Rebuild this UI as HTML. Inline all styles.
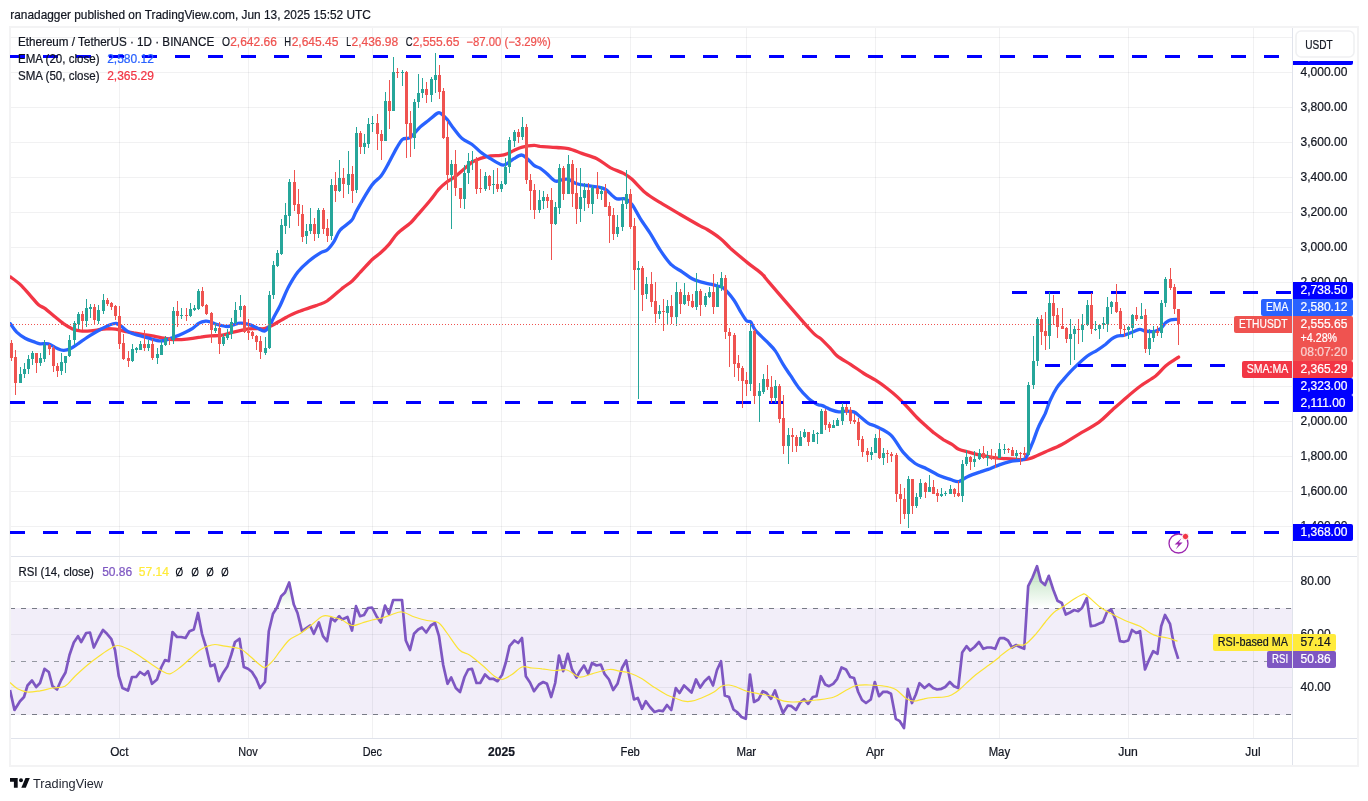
<!DOCTYPE html><html><head><meta charset="utf-8"><style>html,body{margin:0;padding:0;background:#fff;width:1368px;height:801px;overflow:hidden}</style></head><body><svg width="1368" height="801" viewBox="0 0 1368 801" style="position:absolute;left:0;top:0;will-change:transform;font-family:'Liberation Sans',sans-serif">
<rect width="1368" height="801" fill="#fff"/>
<defs><clipPath id="cm"><rect x="10" y="27" width="1282" height="529"/></clipPath><clipPath id="cr"><rect x="10" y="557" width="1282" height="181"/></clipPath><linearGradient id="ob" gradientUnits="userSpaceOnUse" x1="0" y1="529" x2="0" y2="608"><stop offset="0" stop-color="#4caf50" stop-opacity="0.75"/><stop offset="1" stop-color="#4caf50" stop-opacity="0"/></linearGradient></defs>
<g shape-rendering="crispEdges">
<rect x="10" y="608" width="1282" height="107" fill="#f2eef9"/>
<rect x="119" y="28" width="1" height="710" fill="#2a2e39" fill-opacity="0.065"/>
<rect x="248" y="28" width="1" height="710" fill="#2a2e39" fill-opacity="0.065"/>
<rect x="372" y="28" width="1" height="710" fill="#2a2e39" fill-opacity="0.065"/>
<rect x="501" y="28" width="1" height="710" fill="#2a2e39" fill-opacity="0.065"/>
<rect x="630" y="28" width="1" height="710" fill="#2a2e39" fill-opacity="0.065"/>
<rect x="746" y="28" width="1" height="710" fill="#2a2e39" fill-opacity="0.065"/>
<rect x="875" y="28" width="1" height="710" fill="#2a2e39" fill-opacity="0.065"/>
<rect x="999" y="28" width="1" height="710" fill="#2a2e39" fill-opacity="0.065"/>
<rect x="1128" y="28" width="1" height="710" fill="#2a2e39" fill-opacity="0.065"/>
<rect x="1253" y="28" width="1" height="710" fill="#2a2e39" fill-opacity="0.065"/>
<rect x="11" y="37" width="1281" height="1" fill="#2a2e39" fill-opacity="0.065"/>
<rect x="11" y="72" width="1281" height="1" fill="#2a2e39" fill-opacity="0.065"/>
<rect x="11" y="107" width="1281" height="1" fill="#2a2e39" fill-opacity="0.065"/>
<rect x="11" y="142" width="1281" height="1" fill="#2a2e39" fill-opacity="0.065"/>
<rect x="11" y="177" width="1281" height="1" fill="#2a2e39" fill-opacity="0.065"/>
<rect x="11" y="212" width="1281" height="1" fill="#2a2e39" fill-opacity="0.065"/>
<rect x="11" y="247" width="1281" height="1" fill="#2a2e39" fill-opacity="0.065"/>
<rect x="11" y="282" width="1281" height="1" fill="#2a2e39" fill-opacity="0.065"/>
<rect x="11" y="317" width="1281" height="1" fill="#2a2e39" fill-opacity="0.065"/>
<rect x="11" y="351" width="1281" height="1" fill="#2a2e39" fill-opacity="0.065"/>
<rect x="11" y="386" width="1281" height="1" fill="#2a2e39" fill-opacity="0.065"/>
<rect x="11" y="421" width="1281" height="1" fill="#2a2e39" fill-opacity="0.065"/>
<rect x="11" y="456" width="1281" height="1" fill="#2a2e39" fill-opacity="0.065"/>
<rect x="11" y="491" width="1281" height="1" fill="#2a2e39" fill-opacity="0.065"/>
<rect x="11" y="526" width="1281" height="1" fill="#2a2e39" fill-opacity="0.065"/>
<rect x="11" y="581" width="1281" height="1" fill="#2a2e39" fill-opacity="0.065"/>
<rect x="11" y="634" width="1281" height="1" fill="#2a2e39" fill-opacity="0.065"/>
<rect x="11" y="687" width="1281" height="1" fill="#2a2e39" fill-opacity="0.065"/>
</g>
<line x1="10" x2="1292" y1="608.5" y2="608.5" stroke="#787b86" stroke-width="1" stroke-dasharray="5 6" shape-rendering="crispEdges"/>
<line x1="10" x2="1292" y1="661.5" y2="661.5" stroke="#9598a1" stroke-width="1" stroke-dasharray="5 6" shape-rendering="crispEdges"/>
<line x1="10" x2="1292" y1="714.5" y2="714.5" stroke="#787b86" stroke-width="1" stroke-dasharray="5 6" shape-rendering="crispEdges"/>
<g shape-rendering="crispEdges">
<rect x="9" y="26" width="1350" height="2" fill="#f3f3f4"/>
<rect x="9" y="765" width="1350" height="2" fill="#f3f3f4"/>
<rect x="9" y="26" width="2" height="741" fill="#f3f3f4"/>
<rect x="1357" y="26" width="2" height="741" fill="#f3f3f4"/>
</g>
<g clip-path="url(#cm)">
<path d="M10.4,276.9 C12.0,278.1 16.8,281.3 20.1,284.4 C23.4,287.5 27.0,291.9 30.1,295.3 C33.2,298.7 36.0,302.6 38.5,304.8 C41.0,307.0 42.4,306.6 45.2,308.6 C47.9,310.7 52.1,314.5 55.2,317.0 C58.2,319.5 60.8,321.7 63.5,323.7 C66.3,325.6 69.1,327.5 71.9,328.7 C74.7,329.9 77.2,330.5 80.3,330.9 C83.3,331.2 87.0,331.1 90.3,330.9 C93.6,330.7 97.3,329.9 100.3,329.5 C103.4,329.2 106.2,328.8 108.7,328.7 C111.2,328.7 112.9,328.8 115.4,329.2 C117.9,329.6 120.7,330.6 123.7,331.2 C126.8,331.8 130.4,332.3 133.8,332.9 C137.1,333.4 140.5,334.0 143.8,334.6 C147.2,335.1 150.5,335.6 153.8,336.2 C157.2,336.8 160.8,337.7 163.9,338.2 C166.9,338.8 169.5,339.4 172.2,339.6 C175.0,339.8 177.5,339.7 180.6,339.6 C183.7,339.4 187.3,339.2 190.6,338.7 C194.0,338.3 197.3,337.5 200.7,337.1 C204.0,336.6 207.4,336.2 210.7,335.9 C214.0,335.6 216.9,336.0 220.7,335.4 C224.5,334.8 228.8,333.3 233.4,332.2 C238.1,331.2 244.6,329.5 248.5,328.9 C252.4,328.3 254.2,328.6 256.9,328.6 C259.5,328.5 261.9,329.1 264.4,328.6 C266.9,328.1 268.1,327.5 271.9,325.6 C275.7,323.6 282.2,319.3 287.0,316.9 C291.7,314.4 295.3,313.0 300.3,311.0 C305.4,309.1 312.6,306.8 317.1,305.2 C321.5,303.5 322.9,303.8 327.1,301.0 C331.3,298.2 338.0,291.8 342.1,288.4 C346.3,285.1 349.1,283.6 352.2,280.9 C355.2,278.2 357.2,275.6 360.5,272.0 C363.9,268.5 368.9,262.7 372.2,259.5 C375.6,256.3 377.8,255.3 380.6,252.8 C383.4,250.3 386.2,247.7 389.0,244.4 C391.8,241.2 393.7,237.2 397.3,233.6 C400.9,230.0 407.4,225.8 410.7,222.7 C414.0,219.6 414.1,218.9 417.4,215.2 C420.7,211.4 426.8,204.5 430.3,200.2 C433.9,195.9 435.9,192.4 438.7,189.4 C441.5,186.3 444.5,183.8 447.1,181.8 C449.6,179.9 451.0,179.7 453.7,177.7 C456.5,175.6 460.7,171.9 463.8,169.3 C466.8,166.7 469.4,163.9 472.1,162.1 C474.9,160.3 477.4,159.5 480.5,158.4 C483.6,157.4 487.2,156.4 490.5,155.9 C493.9,155.4 497.8,155.8 500.6,155.4 C503.4,155.1 505.0,154.6 507.3,153.7 C509.5,152.9 511.4,151.5 513.9,150.4 C516.5,149.3 519.0,147.9 522.3,147.1 C525.7,146.2 531.1,145.5 534.0,145.4 C537.0,145.3 536.2,146.0 540.0,146.4 C543.8,146.7 552.0,147.1 556.7,147.5 C561.5,147.9 564.2,147.7 568.4,148.7 C572.6,149.7 577.1,151.7 581.8,153.4 C586.5,155.1 592.1,156.4 596.9,158.7 C601.6,161.1 605.8,165.1 610.2,167.6 C614.7,170.0 620.0,171.5 623.6,173.4 C627.2,175.4 628.4,176.1 632.0,179.3 C635.6,182.5 640.6,188.8 645.4,192.7 C650.1,196.6 654.8,199.2 660.4,202.7 C666.0,206.2 672.1,209.7 678.8,213.6 C685.5,217.5 695.8,223.5 700.5,226.1 C705.3,228.8 703.9,227.4 707.2,229.5 C710.6,231.6 716.7,235.5 720.6,238.7 C724.5,241.8 726.2,244.4 730.6,248.4 C735.1,252.3 742.9,259.0 747.4,262.6 C751.8,266.2 754.6,267.9 757.4,270.1 C760.2,272.3 762.3,274.1 764.1,276.0 C765.8,277.8 760.2,272.0 767.9,281.0 C775.6,290.0 801.6,320.4 810.4,330.0 C819.1,339.6 817.1,335.3 820.4,338.4 C823.7,341.4 827.6,345.5 830.4,348.4 C833.2,351.3 833.8,353.3 837.1,355.9 C840.5,358.6 846.0,361.4 850.5,364.3 C855.0,367.2 859.7,370.8 863.9,373.5 C868.1,376.1 871.7,377.7 875.6,380.2 C879.5,382.7 883.7,385.7 887.3,388.5 C890.9,391.3 894.3,394.1 897.3,396.9 C900.4,399.7 902.4,401.8 905.7,405.3 C908.9,408.7 913.3,413.9 916.9,417.5 C920.4,421.1 924.1,424.2 926.9,426.7 C929.7,429.2 930.8,430.4 933.6,432.6 C936.4,434.7 940.5,437.8 943.6,439.8 C946.7,441.7 949.5,442.7 952.0,444.3 C954.5,445.9 955.9,448.0 958.7,449.3 C961.4,450.6 965.1,451.2 968.7,452.1 C972.3,453.1 976.2,454.2 980.4,455.2 C984.6,456.1 989.4,457.1 993.8,457.7 C998.2,458.3 1001.6,458.4 1006.7,458.7 C1011.8,459.0 1020.1,459.7 1024.3,459.6 C1028.5,459.4 1028.3,459.1 1031.8,457.9 C1035.3,456.6 1040.2,454.3 1045.2,452.0 C1050.2,449.8 1056.6,447.3 1061.9,444.5 C1067.2,441.7 1070.8,439.0 1077.0,435.3 C1083.1,431.6 1092.8,426.5 1098.7,422.3 C1104.5,418.1 1107.3,414.5 1112.1,410.2 C1116.8,406.0 1122.4,400.9 1127.1,396.9 C1131.9,392.8 1135.8,389.5 1140.5,386.0 C1145.2,382.5 1151.4,379.3 1155.6,376.0 C1159.7,372.6 1162.5,368.6 1165.6,365.9 C1168.7,363.3 1171.8,361.5 1173.9,360.1 C1176.1,358.6 1177.8,357.6 1178.6,357.1" fill="none" stroke="#f23645" stroke-width="3.3" stroke-linejoin="round" stroke-linecap="round"/>
<path d="M10.4,323.7 C11.4,325.1 14.3,329.6 16.7,332.1 C19.2,334.5 22.3,336.7 25.1,338.2 C27.9,339.8 30.9,340.7 33.4,341.6 C36.0,342.5 37.6,343.4 40.1,343.8 C42.6,344.1 45.7,343.0 48.5,343.8 C51.3,344.5 54.3,347.2 56.9,348.3 C59.4,349.4 61.3,350.4 63.5,350.4 C65.8,350.5 67.7,350.0 70.2,348.8 C72.7,347.6 75.3,345.5 78.6,343.3 C81.9,341.0 86.7,337.7 90.3,335.4 C93.9,333.1 97.1,331.3 100.3,329.5 C103.5,327.8 106.9,326.0 109.5,325.0 C112.2,324.0 114.3,323.3 116.2,323.5 C118.2,323.7 119.1,324.8 121.2,326.2 C123.3,327.6 125.8,330.5 128.8,332.1 C131.7,333.6 135.2,334.3 138.8,335.4 C142.4,336.5 146.9,337.8 150.5,338.7 C154.1,339.7 157.7,340.8 160.5,340.9 C163.3,341.1 165.0,340.2 167.2,339.6 C169.5,338.9 171.1,338.2 173.9,337.1 C176.7,336.0 180.9,334.3 183.9,332.9 C187.0,331.5 189.8,330.3 192.3,328.7 C194.8,327.1 196.8,324.4 199.0,323.2 C201.2,321.9 203.7,321.4 205.7,321.2 C207.6,321.0 208.8,321.5 210.7,322.0 C212.7,322.6 214.6,323.8 217.4,324.5 C220.2,325.3 224.7,326.5 227.4,326.5 C230.1,326.6 231.3,325.4 233.4,324.9 C235.6,324.3 237.6,323.3 240.1,323.2 C242.6,323.1 245.7,323.6 248.5,324.4 C251.3,325.1 254.2,326.6 256.9,327.7 C259.5,328.8 262.3,331.3 264.4,331.1 C266.5,330.8 267.9,328.3 269.4,326.1 C270.9,323.8 271.8,321.2 273.6,317.7 C275.4,314.2 277.8,310.3 280.3,305.2 C282.8,300.0 285.7,292.3 288.6,286.8 C291.6,281.2 294.5,276.3 297.8,272.0 C301.2,267.8 304.9,264.4 308.7,261.2 C312.5,258.0 317.3,254.7 320.4,252.8 C323.5,250.9 324.9,251.8 327.1,250.0 C329.3,248.2 331.6,245.2 333.8,241.9 C335.9,238.7 337.0,233.9 340.0,230.3 C343.0,226.7 349.0,223.6 351.7,220.3 C354.5,217.0 353.4,216.1 356.8,210.3 C360.1,204.4 367.8,190.9 371.8,185.2 C375.8,179.5 378.2,179.6 381.0,176.0 C383.8,172.4 385.9,168.2 388.5,163.4 C391.2,158.7 394.5,151.6 396.9,147.6 C399.3,143.5 400.5,140.9 402.7,139.2 C405.0,137.5 407.3,139.6 410.3,137.5 C413.2,135.5 417.2,129.8 420.3,126.9 C423.4,124.0 425.9,122.5 428.7,120.2 C431.4,118.0 435.1,114.7 437.0,113.5 C439.0,112.4 438.7,112.2 440.4,113.2 C442.0,114.2 444.8,116.8 447.1,119.4 C449.3,122.0 451.2,125.4 453.7,128.6 C456.3,131.8 459.0,136.0 462.1,138.6 C465.2,141.3 469.1,142.3 472.1,144.5 C475.2,146.7 477.4,149.6 480.5,152.0 C483.6,154.4 487.2,156.6 490.5,158.7 C493.9,160.8 498.1,163.6 500.6,164.5 C503.1,165.5 503.4,165.5 505.6,164.5 C507.8,163.6 511.3,160.3 513.9,158.7 C516.6,157.1 519.2,155.0 521.5,155.0 C523.7,155.0 525.2,157.0 527.3,158.7 C529.4,160.4 531.9,163.8 534.0,165.4 C536.1,167.0 537.9,166.8 540.0,168.1 C542.1,169.4 544.2,171.3 546.7,173.4 C549.2,175.6 552.5,179.9 555.1,181.0 C557.6,182.0 559.5,180.1 561.7,179.8 C564.0,179.5 565.9,178.6 568.4,179.3 C570.9,180.0 573.7,182.8 576.8,183.8 C579.9,184.8 583.5,185.0 586.8,185.5 C590.2,186.0 593.8,186.2 596.9,186.8 C599.9,187.5 602.7,187.9 605.2,189.3 C607.7,190.7 610.0,193.6 611.9,195.2 C613.9,196.8 614.7,198.2 616.9,198.9 C619.2,199.5 622.8,197.9 625.3,198.9 C627.8,199.8 629.5,201.1 632.0,204.4 C634.5,207.7 637.3,213.7 640.3,218.6 C643.4,223.5 647.0,228.4 650.4,233.6 C653.7,238.9 656.9,245.2 660.4,250.4 C663.9,255.6 667.6,261.2 671.3,264.7 C674.9,268.3 678.7,269.4 682.1,271.8 C685.6,274.1 689.1,277.1 692.2,278.8 C695.2,280.5 697.7,281.0 700.5,281.8 C703.3,282.6 706.1,283.1 708.9,283.8 C711.7,284.5 714.7,285.2 717.3,286.0 C719.8,286.8 721.2,286.1 723.9,288.5 C726.7,290.9 731.2,296.3 734.0,300.2 C736.8,304.1 738.6,308.5 740.7,311.9 C742.8,315.3 744.8,318.9 746.5,320.6 C748.2,322.3 749.3,320.4 750.7,321.9 C752.1,323.5 752.5,326.7 755.2,330.0 C757.9,333.3 763.5,338.2 766.9,341.7 C770.2,345.2 772.5,347.0 775.3,350.9 C778.0,354.8 781.1,361.1 783.6,365.1 C786.1,369.2 787.8,371.4 790.3,375.2 C792.8,378.9 795.6,383.8 798.7,387.7 C801.7,391.6 806.0,396.0 808.7,398.6 C811.4,401.1 813.2,402.0 814.9,403.1 C816.6,404.1 817.5,404.5 818.7,404.9 C820.0,405.3 821.0,405.1 822.4,405.6 C823.9,406.1 825.9,407.4 827.4,408.1 C828.9,408.8 829.4,409.3 831.3,409.9 C833.2,410.6 836.4,411.7 838.8,411.9 C841.2,412.1 843.0,411.1 845.5,411.1 C848.0,411.1 851.3,411.0 853.8,411.9 C856.4,412.9 858.1,415.1 860.5,417.0 C863.0,418.9 865.7,421.8 868.4,423.4 C871.1,425.0 873.0,424.8 876.7,426.7 C880.5,428.7 886.5,430.8 890.9,435.1 C895.4,439.4 899.4,447.9 903.5,452.6 C907.5,457.4 911.3,460.8 915.2,463.5 C919.1,466.2 922.7,466.8 926.9,468.9 C931.1,471.0 936.4,474.3 940.3,476.1 C944.2,477.8 947.2,478.5 950.3,479.4 C953.4,480.3 955.9,482.0 958.7,481.6 C961.4,481.2 963.4,478.5 967.0,476.9 C970.6,475.3 976.6,473.2 980.4,471.9 C984.2,470.5 986.7,470.0 990.0,468.8 C993.3,467.5 996.4,465.8 1000.0,464.6 C1003.7,463.3 1007.7,462.2 1011.7,461.2 C1015.8,460.3 1021.4,460.9 1024.3,459.1 C1027.2,457.3 1027.8,453.5 1029.3,450.4 C1030.8,447.2 1031.9,444.2 1033.5,440.3 C1035.0,436.4 1036.5,431.4 1038.5,427.0 C1040.4,422.5 1043.2,418.0 1045.2,413.6 C1047.1,409.1 1048.2,404.5 1050.2,400.2 C1052.2,395.9 1054.7,391.1 1056.9,387.7 C1059.1,384.2 1060.8,382.5 1063.6,379.3 C1066.4,376.1 1069.7,372.3 1073.6,368.4 C1077.5,364.6 1083.1,359.2 1087.0,356.2 C1090.9,353.2 1094.0,352.3 1097.0,350.3 C1100.1,348.4 1102.9,346.4 1105.4,344.5 C1107.9,342.5 1110.1,340.0 1112.1,338.6 C1114.0,337.2 1115.1,336.7 1117.1,336.1 C1119.0,335.5 1121.3,335.9 1123.8,335.3 C1126.3,334.6 1129.5,333.2 1132.1,332.3 C1134.8,331.3 1137.4,329.6 1139.7,329.4 C1141.9,329.2 1143.1,330.7 1145.5,331.1 C1147.9,331.4 1151.4,332.0 1153.9,331.6 C1156.4,331.2 1158.6,330.1 1160.6,328.6 C1162.5,327.1 1163.9,324.2 1165.6,322.7 C1167.3,321.3 1168.8,320.4 1170.6,319.9 C1172.4,319.3 1175.1,319.4 1176.5,319.4 C1177.8,319.3 1178.1,319.5 1178.5,319.5" fill="none" stroke="#2962ff" stroke-width="3.3" stroke-linejoin="round" stroke-linecap="round"/>
<line x1="10" x2="1292" y1="56.5" y2="56.5" stroke="#0000ff" stroke-width="3" stroke-dasharray="15 18"/>
<line x1="1012" x2="1292" y1="292.5" y2="292.5" stroke="#0000ff" stroke-width="3" stroke-dasharray="15 18"/>
<line x1="1045" x2="1292" y1="365.5" y2="365.5" stroke="#0000ff" stroke-width="3" stroke-dasharray="15 18"/>
<line x1="10" x2="1292" y1="402.5" y2="402.5" stroke="#0000ff" stroke-width="3" stroke-dasharray="15 18"/>
<line x1="10" x2="1292" y1="532.5" y2="532.5" stroke="#0000ff" stroke-width="3" stroke-dasharray="15 18"/>
<g shape-rendering="crispEdges">
<rect x="11" y="340" width="1" height="21" fill="#ef5350"/>
<rect x="10" y="343" width="3" height="15" fill="#ef5350"/>
<rect x="15" y="350" width="1" height="45" fill="#ef5350"/>
<rect x="14" y="357" width="3" height="26" fill="#ef5350"/>
<rect x="20" y="367" width="1" height="16" fill="#26a69a"/>
<rect x="19" y="374" width="3" height="9" fill="#26a69a"/>
<rect x="24" y="363" width="1" height="15" fill="#26a69a"/>
<rect x="23" y="369" width="3" height="5" fill="#26a69a"/>
<rect x="28" y="355" width="1" height="19" fill="#26a69a"/>
<rect x="27" y="359" width="3" height="10" fill="#26a69a"/>
<rect x="32" y="351" width="1" height="14" fill="#26a69a"/>
<rect x="31" y="353" width="3" height="6" fill="#26a69a"/>
<rect x="36" y="353" width="1" height="20" fill="#ef5350"/>
<rect x="35" y="353" width="3" height="10" fill="#ef5350"/>
<rect x="40" y="353" width="1" height="13" fill="#26a69a"/>
<rect x="39" y="358" width="3" height="5" fill="#26a69a"/>
<rect x="44" y="340" width="1" height="22" fill="#26a69a"/>
<rect x="43" y="345" width="3" height="14" fill="#26a69a"/>
<rect x="49" y="344" width="1" height="11" fill="#ef5350"/>
<rect x="48" y="345" width="3" height="4" fill="#ef5350"/>
<rect x="53" y="346" width="1" height="26" fill="#ef5350"/>
<rect x="52" y="348" width="3" height="18" fill="#ef5350"/>
<rect x="57" y="363" width="1" height="14" fill="#ef5350"/>
<rect x="56" y="366" width="3" height="5" fill="#ef5350"/>
<rect x="61" y="353" width="1" height="22" fill="#26a69a"/>
<rect x="60" y="362" width="3" height="9" fill="#26a69a"/>
<rect x="65" y="356" width="1" height="17" fill="#26a69a"/>
<rect x="64" y="356" width="3" height="7" fill="#26a69a"/>
<rect x="69" y="335" width="1" height="22" fill="#26a69a"/>
<rect x="68" y="340" width="3" height="16" fill="#26a69a"/>
<rect x="74" y="321" width="1" height="24" fill="#26a69a"/>
<rect x="73" y="323" width="3" height="17" fill="#26a69a"/>
<rect x="78" y="312" width="1" height="17" fill="#26a69a"/>
<rect x="77" y="314" width="3" height="10" fill="#26a69a"/>
<rect x="82" y="311" width="1" height="19" fill="#ef5350"/>
<rect x="81" y="314" width="3" height="7" fill="#ef5350"/>
<rect x="86" y="299" width="1" height="28" fill="#26a69a"/>
<rect x="85" y="308" width="3" height="13" fill="#26a69a"/>
<rect x="90" y="304" width="1" height="14" fill="#26a69a"/>
<rect x="89" y="307" width="3" height="2" fill="#26a69a"/>
<rect x="94" y="304" width="1" height="21" fill="#ef5350"/>
<rect x="93" y="307" width="3" height="13" fill="#ef5350"/>
<rect x="98" y="305" width="1" height="19" fill="#26a69a"/>
<rect x="97" y="310" width="3" height="11" fill="#26a69a"/>
<rect x="103" y="294" width="1" height="20" fill="#26a69a"/>
<rect x="102" y="300" width="3" height="11" fill="#26a69a"/>
<rect x="107" y="298" width="1" height="8" fill="#ef5350"/>
<rect x="106" y="300" width="3" height="4" fill="#ef5350"/>
<rect x="111" y="302" width="1" height="8" fill="#ef5350"/>
<rect x="110" y="303" width="3" height="4" fill="#ef5350"/>
<rect x="115" y="305" width="1" height="15" fill="#ef5350"/>
<rect x="114" y="306" width="3" height="10" fill="#ef5350"/>
<rect x="119" y="306" width="1" height="43" fill="#ef5350"/>
<rect x="118" y="316" width="3" height="28" fill="#ef5350"/>
<rect x="123" y="334" width="1" height="26" fill="#ef5350"/>
<rect x="122" y="343" width="3" height="16" fill="#ef5350"/>
<rect x="128" y="351" width="1" height="16" fill="#ef5350"/>
<rect x="127" y="358" width="3" height="3" fill="#ef5350"/>
<rect x="132" y="344" width="1" height="18" fill="#26a69a"/>
<rect x="131" y="349" width="3" height="12" fill="#26a69a"/>
<rect x="136" y="347" width="1" height="6" fill="#26a69a"/>
<rect x="135" y="348" width="3" height="2" fill="#26a69a"/>
<rect x="140" y="341" width="1" height="9" fill="#26a69a"/>
<rect x="139" y="344" width="3" height="6" fill="#26a69a"/>
<rect x="144" y="330" width="1" height="21" fill="#ef5350"/>
<rect x="143" y="344" width="3" height="4" fill="#ef5350"/>
<rect x="148" y="340" width="1" height="11" fill="#26a69a"/>
<rect x="147" y="344" width="3" height="4" fill="#26a69a"/>
<rect x="152" y="339" width="1" height="21" fill="#ef5350"/>
<rect x="151" y="344" width="3" height="14" fill="#ef5350"/>
<rect x="157" y="348" width="1" height="16" fill="#26a69a"/>
<rect x="156" y="354" width="3" height="4" fill="#26a69a"/>
<rect x="161" y="340" width="1" height="15" fill="#26a69a"/>
<rect x="160" y="345" width="3" height="10" fill="#26a69a"/>
<rect x="165" y="336" width="1" height="10" fill="#26a69a"/>
<rect x="164" y="338" width="3" height="7" fill="#26a69a"/>
<rect x="169" y="337" width="1" height="8" fill="#ef5350"/>
<rect x="168" y="338" width="3" height="2" fill="#ef5350"/>
<rect x="173" y="307" width="1" height="37" fill="#26a69a"/>
<rect x="172" y="311" width="3" height="29" fill="#26a69a"/>
<rect x="177" y="301" width="1" height="26" fill="#ef5350"/>
<rect x="176" y="311" width="3" height="5" fill="#ef5350"/>
<rect x="181" y="308" width="1" height="11" fill="#26a69a"/>
<rect x="180" y="315" width="3" height="1" fill="#26a69a"/>
<rect x="186" y="308" width="1" height="13" fill="#ef5350"/>
<rect x="185" y="315" width="3" height="1" fill="#ef5350"/>
<rect x="190" y="303" width="1" height="14" fill="#26a69a"/>
<rect x="189" y="309" width="3" height="7" fill="#26a69a"/>
<rect x="194" y="305" width="1" height="6" fill="#26a69a"/>
<rect x="193" y="308" width="3" height="2" fill="#26a69a"/>
<rect x="198" y="289" width="1" height="21" fill="#26a69a"/>
<rect x="197" y="291" width="3" height="18" fill="#26a69a"/>
<rect x="202" y="287" width="1" height="20" fill="#ef5350"/>
<rect x="201" y="291" width="3" height="15" fill="#ef5350"/>
<rect x="206" y="304" width="1" height="11" fill="#ef5350"/>
<rect x="205" y="305" width="3" height="9" fill="#ef5350"/>
<rect x="211" y="312" width="1" height="31" fill="#ef5350"/>
<rect x="210" y="313" width="3" height="17" fill="#ef5350"/>
<rect x="215" y="323" width="1" height="10" fill="#26a69a"/>
<rect x="214" y="328" width="3" height="3" fill="#26a69a"/>
<rect x="219" y="322" width="1" height="32" fill="#ef5350"/>
<rect x="218" y="328" width="3" height="16" fill="#ef5350"/>
<rect x="223" y="334" width="1" height="12" fill="#26a69a"/>
<rect x="222" y="337" width="3" height="7" fill="#26a69a"/>
<rect x="227" y="329" width="1" height="11" fill="#26a69a"/>
<rect x="226" y="334" width="3" height="4" fill="#26a69a"/>
<rect x="231" y="318" width="1" height="21" fill="#26a69a"/>
<rect x="230" y="322" width="3" height="12" fill="#26a69a"/>
<rect x="235" y="302" width="1" height="22" fill="#26a69a"/>
<rect x="234" y="310" width="3" height="13" fill="#26a69a"/>
<rect x="240" y="295" width="1" height="22" fill="#26a69a"/>
<rect x="239" y="306" width="3" height="4" fill="#26a69a"/>
<rect x="244" y="305" width="1" height="28" fill="#ef5350"/>
<rect x="243" y="306" width="3" height="26" fill="#ef5350"/>
<rect x="248" y="319" width="1" height="21" fill="#ef5350"/>
<rect x="247" y="331" width="3" height="2" fill="#ef5350"/>
<rect x="252" y="331" width="1" height="8" fill="#ef5350"/>
<rect x="251" y="332" width="3" height="4" fill="#ef5350"/>
<rect x="256" y="335" width="1" height="15" fill="#ef5350"/>
<rect x="255" y="336" width="3" height="6" fill="#ef5350"/>
<rect x="260" y="336" width="1" height="23" fill="#ef5350"/>
<rect x="259" y="341" width="3" height="11" fill="#ef5350"/>
<rect x="265" y="337" width="1" height="18" fill="#26a69a"/>
<rect x="264" y="348" width="3" height="5" fill="#26a69a"/>
<rect x="269" y="291" width="1" height="58" fill="#26a69a"/>
<rect x="268" y="295" width="3" height="53" fill="#26a69a"/>
<rect x="273" y="261" width="1" height="38" fill="#26a69a"/>
<rect x="272" y="265" width="3" height="30" fill="#26a69a"/>
<rect x="277" y="250" width="1" height="17" fill="#26a69a"/>
<rect x="276" y="253" width="3" height="13" fill="#26a69a"/>
<rect x="281" y="219" width="1" height="36" fill="#26a69a"/>
<rect x="280" y="225" width="3" height="29" fill="#26a69a"/>
<rect x="285" y="203" width="1" height="31" fill="#26a69a"/>
<rect x="284" y="215" width="3" height="11" fill="#26a69a"/>
<rect x="289" y="179" width="1" height="49" fill="#26a69a"/>
<rect x="288" y="182" width="3" height="34" fill="#26a69a"/>
<rect x="294" y="170" width="1" height="41" fill="#ef5350"/>
<rect x="293" y="182" width="3" height="23" fill="#ef5350"/>
<rect x="298" y="189" width="1" height="37" fill="#ef5350"/>
<rect x="297" y="204" width="3" height="10" fill="#ef5350"/>
<rect x="302" y="205" width="1" height="37" fill="#ef5350"/>
<rect x="301" y="214" width="3" height="23" fill="#ef5350"/>
<rect x="306" y="224" width="1" height="20" fill="#26a69a"/>
<rect x="305" y="231" width="3" height="5" fill="#26a69a"/>
<rect x="310" y="208" width="1" height="26" fill="#26a69a"/>
<rect x="309" y="224" width="3" height="7" fill="#26a69a"/>
<rect x="314" y="218" width="1" height="23" fill="#ef5350"/>
<rect x="313" y="224" width="3" height="10" fill="#ef5350"/>
<rect x="318" y="208" width="1" height="30" fill="#26a69a"/>
<rect x="317" y="210" width="3" height="24" fill="#26a69a"/>
<rect x="323" y="208" width="1" height="26" fill="#ef5350"/>
<rect x="322" y="210" width="3" height="19" fill="#ef5350"/>
<rect x="327" y="219" width="1" height="23" fill="#ef5350"/>
<rect x="326" y="228" width="3" height="8" fill="#ef5350"/>
<rect x="331" y="179" width="1" height="61" fill="#26a69a"/>
<rect x="330" y="185" width="3" height="51" fill="#26a69a"/>
<rect x="335" y="172" width="1" height="30" fill="#ef5350"/>
<rect x="334" y="185" width="3" height="6" fill="#ef5350"/>
<rect x="339" y="160" width="1" height="32" fill="#26a69a"/>
<rect x="338" y="178" width="3" height="13" fill="#26a69a"/>
<rect x="343" y="168" width="1" height="30" fill="#ef5350"/>
<rect x="342" y="178" width="3" height="6" fill="#ef5350"/>
<rect x="348" y="151" width="1" height="43" fill="#26a69a"/>
<rect x="347" y="174" width="3" height="11" fill="#26a69a"/>
<rect x="352" y="166" width="1" height="37" fill="#ef5350"/>
<rect x="351" y="174" width="3" height="17" fill="#ef5350"/>
<rect x="356" y="127" width="1" height="66" fill="#26a69a"/>
<rect x="355" y="133" width="3" height="57" fill="#26a69a"/>
<rect x="360" y="131" width="1" height="23" fill="#ef5350"/>
<rect x="359" y="133" width="3" height="14" fill="#ef5350"/>
<rect x="364" y="134" width="1" height="20" fill="#26a69a"/>
<rect x="363" y="143" width="3" height="4" fill="#26a69a"/>
<rect x="368" y="118" width="1" height="30" fill="#26a69a"/>
<rect x="367" y="124" width="3" height="20" fill="#26a69a"/>
<rect x="372" y="116" width="1" height="16" fill="#26a69a"/>
<rect x="371" y="123" width="3" height="1" fill="#26a69a"/>
<rect x="377" y="114" width="1" height="36" fill="#ef5350"/>
<rect x="376" y="123" width="3" height="11" fill="#ef5350"/>
<rect x="381" y="130" width="1" height="30" fill="#ef5350"/>
<rect x="380" y="134" width="3" height="7" fill="#ef5350"/>
<rect x="385" y="92" width="1" height="49" fill="#26a69a"/>
<rect x="384" y="101" width="3" height="40" fill="#26a69a"/>
<rect x="389" y="80" width="1" height="49" fill="#ef5350"/>
<rect x="388" y="101" width="3" height="10" fill="#ef5350"/>
<rect x="393" y="57" width="1" height="54" fill="#26a69a"/>
<rect x="392" y="72" width="3" height="39" fill="#26a69a"/>
<rect x="397" y="68" width="1" height="10" fill="#ef5350"/>
<rect x="396" y="72" width="3" height="1" fill="#ef5350"/>
<rect x="402" y="70" width="1" height="16" fill="#26a69a"/>
<rect x="401" y="72" width="3" height="1" fill="#26a69a"/>
<rect x="406" y="71" width="1" height="87" fill="#ef5350"/>
<rect x="405" y="72" width="3" height="52" fill="#ef5350"/>
<rect x="410" y="111" width="1" height="46" fill="#ef5350"/>
<rect x="409" y="123" width="3" height="15" fill="#ef5350"/>
<rect x="414" y="99" width="1" height="50" fill="#26a69a"/>
<rect x="413" y="102" width="3" height="36" fill="#26a69a"/>
<rect x="418" y="74" width="1" height="34" fill="#26a69a"/>
<rect x="417" y="93" width="3" height="9" fill="#26a69a"/>
<rect x="422" y="78" width="1" height="20" fill="#26a69a"/>
<rect x="421" y="89" width="3" height="4" fill="#26a69a"/>
<rect x="426" y="82" width="1" height="21" fill="#ef5350"/>
<rect x="425" y="89" width="3" height="6" fill="#ef5350"/>
<rect x="431" y="77" width="1" height="25" fill="#26a69a"/>
<rect x="430" y="79" width="3" height="16" fill="#26a69a"/>
<rect x="435" y="53" width="1" height="40" fill="#26a69a"/>
<rect x="434" y="75" width="3" height="5" fill="#26a69a"/>
<rect x="439" y="65" width="1" height="34" fill="#ef5350"/>
<rect x="438" y="75" width="3" height="17" fill="#ef5350"/>
<rect x="443" y="88" width="1" height="51" fill="#ef5350"/>
<rect x="442" y="91" width="3" height="47" fill="#ef5350"/>
<rect x="447" y="121" width="1" height="69" fill="#ef5350"/>
<rect x="446" y="137" width="3" height="38" fill="#ef5350"/>
<rect x="451" y="160" width="1" height="69" fill="#26a69a"/>
<rect x="450" y="164" width="3" height="11" fill="#26a69a"/>
<rect x="455" y="150" width="1" height="46" fill="#ef5350"/>
<rect x="454" y="164" width="3" height="24" fill="#ef5350"/>
<rect x="460" y="188" width="1" height="20" fill="#ef5350"/>
<rect x="459" y="188" width="3" height="11" fill="#ef5350"/>
<rect x="464" y="165" width="1" height="44" fill="#26a69a"/>
<rect x="463" y="173" width="3" height="26" fill="#26a69a"/>
<rect x="468" y="153" width="1" height="31" fill="#26a69a"/>
<rect x="467" y="161" width="3" height="12" fill="#26a69a"/>
<rect x="472" y="151" width="1" height="19" fill="#26a69a"/>
<rect x="471" y="160" width="3" height="1" fill="#26a69a"/>
<rect x="476" y="157" width="1" height="37" fill="#ef5350"/>
<rect x="475" y="160" width="3" height="29" fill="#ef5350"/>
<rect x="480" y="169" width="1" height="24" fill="#ef5350"/>
<rect x="479" y="188" width="3" height="1" fill="#ef5350"/>
<rect x="485" y="172" width="1" height="19" fill="#26a69a"/>
<rect x="484" y="176" width="3" height="13" fill="#26a69a"/>
<rect x="489" y="175" width="1" height="15" fill="#ef5350"/>
<rect x="488" y="176" width="3" height="10" fill="#ef5350"/>
<rect x="493" y="170" width="1" height="24" fill="#26a69a"/>
<rect x="492" y="184" width="3" height="1" fill="#26a69a"/>
<rect x="497" y="168" width="1" height="24" fill="#ef5350"/>
<rect x="496" y="184" width="3" height="5" fill="#ef5350"/>
<rect x="501" y="181" width="1" height="11" fill="#26a69a"/>
<rect x="500" y="184" width="3" height="5" fill="#26a69a"/>
<rect x="505" y="158" width="1" height="27" fill="#26a69a"/>
<rect x="504" y="167" width="3" height="17" fill="#26a69a"/>
<rect x="509" y="137" width="1" height="36" fill="#26a69a"/>
<rect x="508" y="140" width="3" height="27" fill="#26a69a"/>
<rect x="514" y="130" width="1" height="17" fill="#26a69a"/>
<rect x="513" y="132" width="3" height="9" fill="#26a69a"/>
<rect x="518" y="129" width="1" height="14" fill="#ef5350"/>
<rect x="517" y="132" width="3" height="5" fill="#ef5350"/>
<rect x="522" y="117" width="1" height="23" fill="#26a69a"/>
<rect x="521" y="127" width="3" height="10" fill="#26a69a"/>
<rect x="526" y="124" width="1" height="60" fill="#ef5350"/>
<rect x="525" y="127" width="3" height="53" fill="#ef5350"/>
<rect x="530" y="174" width="1" height="36" fill="#ef5350"/>
<rect x="529" y="180" width="3" height="11" fill="#ef5350"/>
<rect x="534" y="184" width="1" height="35" fill="#ef5350"/>
<rect x="533" y="190" width="3" height="20" fill="#ef5350"/>
<rect x="539" y="190" width="1" height="23" fill="#26a69a"/>
<rect x="538" y="200" width="3" height="10" fill="#26a69a"/>
<rect x="543" y="191" width="1" height="18" fill="#26a69a"/>
<rect x="542" y="197" width="3" height="4" fill="#26a69a"/>
<rect x="547" y="194" width="1" height="14" fill="#ef5350"/>
<rect x="546" y="197" width="3" height="4" fill="#ef5350"/>
<rect x="551" y="188" width="1" height="72" fill="#ef5350"/>
<rect x="550" y="200" width="3" height="24" fill="#ef5350"/>
<rect x="555" y="202" width="1" height="23" fill="#26a69a"/>
<rect x="554" y="207" width="3" height="17" fill="#26a69a"/>
<rect x="559" y="164" width="1" height="50" fill="#26a69a"/>
<rect x="558" y="168" width="3" height="40" fill="#26a69a"/>
<rect x="563" y="166" width="1" height="34" fill="#ef5350"/>
<rect x="562" y="168" width="3" height="26" fill="#ef5350"/>
<rect x="568" y="155" width="1" height="39" fill="#26a69a"/>
<rect x="567" y="164" width="3" height="30" fill="#26a69a"/>
<rect x="572" y="160" width="1" height="47" fill="#ef5350"/>
<rect x="571" y="164" width="3" height="30" fill="#ef5350"/>
<rect x="576" y="168" width="1" height="56" fill="#ef5350"/>
<rect x="575" y="193" width="3" height="16" fill="#ef5350"/>
<rect x="580" y="168" width="1" height="54" fill="#26a69a"/>
<rect x="579" y="197" width="3" height="12" fill="#26a69a"/>
<rect x="584" y="183" width="1" height="28" fill="#26a69a"/>
<rect x="583" y="190" width="3" height="8" fill="#26a69a"/>
<rect x="588" y="183" width="1" height="25" fill="#ef5350"/>
<rect x="587" y="190" width="3" height="14" fill="#ef5350"/>
<rect x="592" y="185" width="1" height="29" fill="#26a69a"/>
<rect x="591" y="188" width="3" height="16" fill="#26a69a"/>
<rect x="597" y="172" width="1" height="27" fill="#ef5350"/>
<rect x="596" y="188" width="3" height="6" fill="#ef5350"/>
<rect x="601" y="186" width="1" height="14" fill="#26a69a"/>
<rect x="600" y="191" width="3" height="3" fill="#26a69a"/>
<rect x="605" y="184" width="1" height="23" fill="#ef5350"/>
<rect x="604" y="191" width="3" height="16" fill="#ef5350"/>
<rect x="609" y="202" width="1" height="41" fill="#ef5350"/>
<rect x="608" y="206" width="3" height="10" fill="#ef5350"/>
<rect x="613" y="208" width="1" height="32" fill="#ef5350"/>
<rect x="612" y="215" width="3" height="19" fill="#ef5350"/>
<rect x="617" y="215" width="1" height="22" fill="#26a69a"/>
<rect x="616" y="227" width="3" height="7" fill="#26a69a"/>
<rect x="622" y="197" width="1" height="34" fill="#26a69a"/>
<rect x="621" y="204" width="3" height="23" fill="#26a69a"/>
<rect x="626" y="170" width="1" height="39" fill="#26a69a"/>
<rect x="625" y="194" width="3" height="10" fill="#26a69a"/>
<rect x="630" y="189" width="1" height="40" fill="#ef5350"/>
<rect x="629" y="194" width="3" height="33" fill="#ef5350"/>
<rect x="634" y="218" width="1" height="72" fill="#ef5350"/>
<rect x="633" y="226" width="3" height="44" fill="#ef5350"/>
<rect x="638" y="261" width="1" height="138" fill="#26a69a"/>
<rect x="637" y="268" width="3" height="2" fill="#26a69a"/>
<rect x="642" y="266" width="1" height="45" fill="#ef5350"/>
<rect x="641" y="268" width="3" height="27" fill="#ef5350"/>
<rect x="646" y="277" width="1" height="22" fill="#26a69a"/>
<rect x="645" y="284" width="3" height="10" fill="#26a69a"/>
<rect x="651" y="272" width="1" height="35" fill="#ef5350"/>
<rect x="650" y="284" width="3" height="18" fill="#ef5350"/>
<rect x="655" y="282" width="1" height="41" fill="#ef5350"/>
<rect x="654" y="301" width="3" height="13" fill="#ef5350"/>
<rect x="659" y="305" width="1" height="14" fill="#26a69a"/>
<rect x="658" y="311" width="3" height="3" fill="#26a69a"/>
<rect x="663" y="299" width="1" height="32" fill="#ef5350"/>
<rect x="662" y="311" width="3" height="1" fill="#ef5350"/>
<rect x="667" y="300" width="1" height="24" fill="#26a69a"/>
<rect x="666" y="306" width="3" height="7" fill="#26a69a"/>
<rect x="671" y="295" width="1" height="29" fill="#ef5350"/>
<rect x="670" y="306" width="3" height="11" fill="#ef5350"/>
<rect x="676" y="282" width="1" height="44" fill="#26a69a"/>
<rect x="675" y="292" width="3" height="25" fill="#26a69a"/>
<rect x="680" y="289" width="1" height="25" fill="#ef5350"/>
<rect x="679" y="292" width="3" height="12" fill="#ef5350"/>
<rect x="684" y="283" width="1" height="22" fill="#26a69a"/>
<rect x="683" y="295" width="3" height="9" fill="#26a69a"/>
<rect x="688" y="292" width="1" height="14" fill="#ef5350"/>
<rect x="687" y="295" width="3" height="6" fill="#ef5350"/>
<rect x="692" y="294" width="1" height="14" fill="#ef5350"/>
<rect x="691" y="301" width="3" height="6" fill="#ef5350"/>
<rect x="696" y="273" width="1" height="37" fill="#26a69a"/>
<rect x="695" y="291" width="3" height="16" fill="#26a69a"/>
<rect x="700" y="289" width="1" height="27" fill="#ef5350"/>
<rect x="699" y="291" width="3" height="14" fill="#ef5350"/>
<rect x="705" y="293" width="1" height="14" fill="#26a69a"/>
<rect x="704" y="296" width="3" height="9" fill="#26a69a"/>
<rect x="709" y="287" width="1" height="11" fill="#26a69a"/>
<rect x="708" y="292" width="3" height="5" fill="#26a69a"/>
<rect x="713" y="274" width="1" height="40" fill="#ef5350"/>
<rect x="712" y="292" width="3" height="15" fill="#ef5350"/>
<rect x="717" y="282" width="1" height="25" fill="#26a69a"/>
<rect x="716" y="287" width="3" height="20" fill="#26a69a"/>
<rect x="721" y="272" width="1" height="19" fill="#26a69a"/>
<rect x="720" y="278" width="3" height="10" fill="#26a69a"/>
<rect x="725" y="275" width="1" height="64" fill="#ef5350"/>
<rect x="724" y="278" width="3" height="54" fill="#ef5350"/>
<rect x="729" y="328" width="1" height="39" fill="#ef5350"/>
<rect x="728" y="332" width="3" height="4" fill="#ef5350"/>
<rect x="734" y="333" width="1" height="44" fill="#ef5350"/>
<rect x="733" y="335" width="3" height="29" fill="#ef5350"/>
<rect x="738" y="355" width="1" height="26" fill="#ef5350"/>
<rect x="737" y="363" width="3" height="5" fill="#ef5350"/>
<rect x="742" y="366" width="1" height="42" fill="#ef5350"/>
<rect x="741" y="368" width="3" height="13" fill="#ef5350"/>
<rect x="746" y="372" width="1" height="24" fill="#ef5350"/>
<rect x="745" y="380" width="3" height="4" fill="#ef5350"/>
<rect x="750" y="324" width="1" height="67" fill="#26a69a"/>
<rect x="749" y="331" width="3" height="53" fill="#26a69a"/>
<rect x="754" y="329" width="1" height="75" fill="#ef5350"/>
<rect x="753" y="331" width="3" height="65" fill="#ef5350"/>
<rect x="759" y="383" width="1" height="39" fill="#26a69a"/>
<rect x="758" y="391" width="3" height="5" fill="#26a69a"/>
<rect x="763" y="374" width="1" height="20" fill="#26a69a"/>
<rect x="762" y="379" width="3" height="13" fill="#26a69a"/>
<rect x="767" y="365" width="1" height="25" fill="#ef5350"/>
<rect x="766" y="379" width="3" height="8" fill="#ef5350"/>
<rect x="771" y="376" width="1" height="27" fill="#ef5350"/>
<rect x="770" y="387" width="3" height="11" fill="#ef5350"/>
<rect x="775" y="380" width="1" height="23" fill="#26a69a"/>
<rect x="774" y="386" width="3" height="12" fill="#26a69a"/>
<rect x="779" y="384" width="1" height="39" fill="#ef5350"/>
<rect x="778" y="386" width="3" height="33" fill="#ef5350"/>
<rect x="783" y="395" width="1" height="59" fill="#ef5350"/>
<rect x="782" y="418" width="3" height="28" fill="#ef5350"/>
<rect x="788" y="428" width="1" height="36" fill="#26a69a"/>
<rect x="787" y="435" width="3" height="11" fill="#26a69a"/>
<rect x="792" y="428" width="1" height="24" fill="#ef5350"/>
<rect x="791" y="435" width="3" height="2" fill="#ef5350"/>
<rect x="796" y="435" width="1" height="17" fill="#ef5350"/>
<rect x="795" y="437" width="3" height="9" fill="#ef5350"/>
<rect x="800" y="431" width="1" height="15" fill="#26a69a"/>
<rect x="799" y="437" width="3" height="9" fill="#26a69a"/>
<rect x="804" y="429" width="1" height="9" fill="#26a69a"/>
<rect x="803" y="432" width="3" height="5" fill="#26a69a"/>
<rect x="808" y="432" width="1" height="14" fill="#ef5350"/>
<rect x="807" y="432" width="3" height="10" fill="#ef5350"/>
<rect x="813" y="430" width="1" height="12" fill="#26a69a"/>
<rect x="812" y="434" width="3" height="8" fill="#26a69a"/>
<rect x="817" y="432" width="1" height="12" fill="#26a69a"/>
<rect x="816" y="433" width="3" height="1" fill="#26a69a"/>
<rect x="821" y="409" width="1" height="25" fill="#26a69a"/>
<rect x="820" y="411" width="3" height="23" fill="#26a69a"/>
<rect x="825" y="409" width="1" height="21" fill="#ef5350"/>
<rect x="824" y="411" width="3" height="14" fill="#ef5350"/>
<rect x="829" y="422" width="1" height="10" fill="#ef5350"/>
<rect x="828" y="424" width="3" height="4" fill="#ef5350"/>
<rect x="833" y="420" width="1" height="8" fill="#26a69a"/>
<rect x="832" y="425" width="3" height="3" fill="#26a69a"/>
<rect x="837" y="418" width="1" height="8" fill="#26a69a"/>
<rect x="836" y="420" width="3" height="6" fill="#26a69a"/>
<rect x="842" y="403" width="1" height="22" fill="#26a69a"/>
<rect x="841" y="407" width="3" height="14" fill="#26a69a"/>
<rect x="846" y="404" width="1" height="11" fill="#ef5350"/>
<rect x="845" y="407" width="3" height="5" fill="#ef5350"/>
<rect x="850" y="407" width="1" height="17" fill="#ef5350"/>
<rect x="849" y="410" width="3" height="11" fill="#ef5350"/>
<rect x="854" y="414" width="1" height="10" fill="#ef5350"/>
<rect x="853" y="420" width="3" height="2" fill="#ef5350"/>
<rect x="858" y="418" width="1" height="28" fill="#ef5350"/>
<rect x="857" y="422" width="3" height="18" fill="#ef5350"/>
<rect x="862" y="436" width="1" height="21" fill="#ef5350"/>
<rect x="861" y="439" width="3" height="13" fill="#ef5350"/>
<rect x="867" y="448" width="1" height="14" fill="#ef5350"/>
<rect x="866" y="451" width="3" height="4" fill="#ef5350"/>
<rect x="871" y="447" width="1" height="13" fill="#26a69a"/>
<rect x="870" y="452" width="3" height="3" fill="#26a69a"/>
<rect x="875" y="434" width="1" height="19" fill="#26a69a"/>
<rect x="874" y="438" width="3" height="15" fill="#26a69a"/>
<rect x="879" y="429" width="1" height="30" fill="#ef5350"/>
<rect x="878" y="438" width="3" height="20" fill="#ef5350"/>
<rect x="883" y="448" width="1" height="17" fill="#26a69a"/>
<rect x="882" y="453" width="3" height="5" fill="#26a69a"/>
<rect x="887" y="450" width="1" height="13" fill="#ef5350"/>
<rect x="886" y="453" width="3" height="1" fill="#ef5350"/>
<rect x="891" y="452" width="1" height="10" fill="#ef5350"/>
<rect x="890" y="454" width="3" height="2" fill="#ef5350"/>
<rect x="896" y="453" width="1" height="49" fill="#ef5350"/>
<rect x="895" y="455" width="3" height="39" fill="#ef5350"/>
<rect x="900" y="484" width="1" height="40" fill="#ef5350"/>
<rect x="899" y="494" width="3" height="5" fill="#ef5350"/>
<rect x="904" y="488" width="1" height="31" fill="#ef5350"/>
<rect x="903" y="499" width="3" height="15" fill="#ef5350"/>
<rect x="908" y="476" width="1" height="52" fill="#26a69a"/>
<rect x="907" y="479" width="3" height="35" fill="#26a69a"/>
<rect x="912" y="479" width="1" height="35" fill="#ef5350"/>
<rect x="911" y="479" width="3" height="27" fill="#ef5350"/>
<rect x="916" y="493" width="1" height="15" fill="#26a69a"/>
<rect x="915" y="497" width="3" height="9" fill="#26a69a"/>
<rect x="920" y="479" width="1" height="20" fill="#26a69a"/>
<rect x="919" y="483" width="3" height="14" fill="#26a69a"/>
<rect x="925" y="482" width="1" height="16" fill="#ef5350"/>
<rect x="924" y="483" width="3" height="9" fill="#ef5350"/>
<rect x="929" y="475" width="1" height="17" fill="#26a69a"/>
<rect x="928" y="487" width="3" height="5" fill="#26a69a"/>
<rect x="933" y="480" width="1" height="14" fill="#ef5350"/>
<rect x="932" y="487" width="3" height="7" fill="#ef5350"/>
<rect x="937" y="489" width="1" height="13" fill="#ef5350"/>
<rect x="936" y="493" width="3" height="3" fill="#ef5350"/>
<rect x="941" y="488" width="1" height="9" fill="#26a69a"/>
<rect x="940" y="494" width="3" height="2" fill="#26a69a"/>
<rect x="945" y="491" width="1" height="5" fill="#26a69a"/>
<rect x="944" y="493" width="3" height="1" fill="#26a69a"/>
<rect x="950" y="485" width="1" height="9" fill="#26a69a"/>
<rect x="949" y="489" width="3" height="5" fill="#26a69a"/>
<rect x="954" y="488" width="1" height="9" fill="#ef5350"/>
<rect x="953" y="489" width="3" height="5" fill="#ef5350"/>
<rect x="958" y="481" width="1" height="16" fill="#ef5350"/>
<rect x="957" y="493" width="3" height="3" fill="#ef5350"/>
<rect x="962" y="460" width="1" height="42" fill="#26a69a"/>
<rect x="961" y="464" width="3" height="32" fill="#26a69a"/>
<rect x="966" y="450" width="1" height="16" fill="#26a69a"/>
<rect x="965" y="457" width="3" height="7" fill="#26a69a"/>
<rect x="970" y="456" width="1" height="14" fill="#ef5350"/>
<rect x="969" y="457" width="3" height="5" fill="#ef5350"/>
<rect x="974" y="451" width="1" height="16" fill="#26a69a"/>
<rect x="973" y="459" width="3" height="3" fill="#26a69a"/>
<rect x="979" y="449" width="1" height="11" fill="#26a69a"/>
<rect x="978" y="453" width="3" height="6" fill="#26a69a"/>
<rect x="983" y="446" width="1" height="13" fill="#ef5350"/>
<rect x="982" y="453" width="3" height="5" fill="#ef5350"/>
<rect x="987" y="451" width="1" height="15" fill="#26a69a"/>
<rect x="986" y="456" width="3" height="2" fill="#26a69a"/>
<rect x="991" y="449" width="1" height="11" fill="#ef5350"/>
<rect x="990" y="456" width="3" height="3" fill="#ef5350"/>
<rect x="995" y="453" width="1" height="15" fill="#ef5350"/>
<rect x="994" y="458" width="3" height="1" fill="#ef5350"/>
<rect x="999" y="443" width="1" height="15" fill="#26a69a"/>
<rect x="998" y="449" width="3" height="9" fill="#26a69a"/>
<rect x="1004" y="444" width="1" height="10" fill="#26a69a"/>
<rect x="1003" y="449" width="3" height="1" fill="#26a69a"/>
<rect x="1008" y="448" width="1" height="5" fill="#ef5350"/>
<rect x="1007" y="449" width="3" height="1" fill="#ef5350"/>
<rect x="1012" y="447" width="1" height="9" fill="#ef5350"/>
<rect x="1011" y="450" width="3" height="6" fill="#ef5350"/>
<rect x="1016" y="450" width="1" height="9" fill="#26a69a"/>
<rect x="1015" y="453" width="3" height="3" fill="#26a69a"/>
<rect x="1020" y="452" width="1" height="13" fill="#ef5350"/>
<rect x="1019" y="453" width="3" height="1" fill="#ef5350"/>
<rect x="1024" y="447" width="1" height="11" fill="#ef5350"/>
<rect x="1023" y="453" width="3" height="2" fill="#ef5350"/>
<rect x="1028" y="382" width="1" height="73" fill="#26a69a"/>
<rect x="1027" y="385" width="3" height="70" fill="#26a69a"/>
<rect x="1033" y="336" width="1" height="53" fill="#26a69a"/>
<rect x="1032" y="361" width="3" height="24" fill="#26a69a"/>
<rect x="1037" y="317" width="1" height="49" fill="#26a69a"/>
<rect x="1036" y="319" width="3" height="42" fill="#26a69a"/>
<rect x="1041" y="315" width="1" height="30" fill="#ef5350"/>
<rect x="1040" y="319" width="3" height="13" fill="#ef5350"/>
<rect x="1045" y="312" width="1" height="38" fill="#ef5350"/>
<rect x="1044" y="331" width="3" height="5" fill="#ef5350"/>
<rect x="1049" y="292" width="1" height="57" fill="#26a69a"/>
<rect x="1048" y="303" width="3" height="33" fill="#26a69a"/>
<rect x="1053" y="295" width="1" height="30" fill="#ef5350"/>
<rect x="1052" y="303" width="3" height="13" fill="#ef5350"/>
<rect x="1057" y="308" width="1" height="30" fill="#ef5350"/>
<rect x="1056" y="315" width="3" height="12" fill="#ef5350"/>
<rect x="1062" y="308" width="1" height="21" fill="#ef5350"/>
<rect x="1061" y="326" width="3" height="3" fill="#ef5350"/>
<rect x="1066" y="327" width="1" height="16" fill="#ef5350"/>
<rect x="1065" y="328" width="3" height="11" fill="#ef5350"/>
<rect x="1070" y="319" width="1" height="46" fill="#26a69a"/>
<rect x="1069" y="334" width="3" height="5" fill="#26a69a"/>
<rect x="1074" y="326" width="1" height="34" fill="#26a69a"/>
<rect x="1073" y="329" width="3" height="5" fill="#26a69a"/>
<rect x="1078" y="319" width="1" height="25" fill="#ef5350"/>
<rect x="1077" y="329" width="3" height="1" fill="#ef5350"/>
<rect x="1082" y="314" width="1" height="28" fill="#26a69a"/>
<rect x="1081" y="325" width="3" height="5" fill="#26a69a"/>
<rect x="1087" y="300" width="1" height="26" fill="#26a69a"/>
<rect x="1086" y="305" width="3" height="20" fill="#26a69a"/>
<rect x="1091" y="293" width="1" height="41" fill="#ef5350"/>
<rect x="1090" y="305" width="3" height="24" fill="#ef5350"/>
<rect x="1095" y="321" width="1" height="10" fill="#26a69a"/>
<rect x="1094" y="329" width="3" height="1" fill="#26a69a"/>
<rect x="1099" y="324" width="1" height="15" fill="#26a69a"/>
<rect x="1098" y="325" width="3" height="4" fill="#26a69a"/>
<rect x="1103" y="317" width="1" height="12" fill="#26a69a"/>
<rect x="1102" y="323" width="3" height="2" fill="#26a69a"/>
<rect x="1107" y="297" width="1" height="35" fill="#26a69a"/>
<rect x="1106" y="307" width="3" height="17" fill="#26a69a"/>
<rect x="1111" y="301" width="1" height="13" fill="#26a69a"/>
<rect x="1110" y="302" width="3" height="5" fill="#26a69a"/>
<rect x="1116" y="284" width="1" height="29" fill="#ef5350"/>
<rect x="1115" y="302" width="3" height="10" fill="#ef5350"/>
<rect x="1120" y="308" width="1" height="26" fill="#ef5350"/>
<rect x="1119" y="311" width="3" height="18" fill="#ef5350"/>
<rect x="1124" y="325" width="1" height="12" fill="#ef5350"/>
<rect x="1123" y="329" width="3" height="1" fill="#ef5350"/>
<rect x="1128" y="326" width="1" height="13" fill="#26a69a"/>
<rect x="1127" y="327" width="3" height="3" fill="#26a69a"/>
<rect x="1132" y="314" width="1" height="24" fill="#26a69a"/>
<rect x="1131" y="315" width="3" height="13" fill="#26a69a"/>
<rect x="1136" y="307" width="1" height="14" fill="#ef5350"/>
<rect x="1135" y="315" width="3" height="4" fill="#ef5350"/>
<rect x="1141" y="303" width="1" height="16" fill="#26a69a"/>
<rect x="1140" y="316" width="3" height="3" fill="#26a69a"/>
<rect x="1145" y="309" width="1" height="44" fill="#ef5350"/>
<rect x="1144" y="315" width="3" height="34" fill="#ef5350"/>
<rect x="1149" y="329" width="1" height="26" fill="#26a69a"/>
<rect x="1148" y="338" width="3" height="11" fill="#26a69a"/>
<rect x="1153" y="326" width="1" height="16" fill="#26a69a"/>
<rect x="1152" y="331" width="3" height="7" fill="#26a69a"/>
<rect x="1157" y="326" width="1" height="10" fill="#ef5350"/>
<rect x="1156" y="331" width="3" height="2" fill="#ef5350"/>
<rect x="1161" y="300" width="1" height="38" fill="#26a69a"/>
<rect x="1160" y="303" width="3" height="30" fill="#26a69a"/>
<rect x="1165" y="277" width="1" height="30" fill="#26a69a"/>
<rect x="1164" y="279" width="3" height="24" fill="#26a69a"/>
<rect x="1170" y="268" width="1" height="22" fill="#ef5350"/>
<rect x="1169" y="279" width="3" height="9" fill="#ef5350"/>
<rect x="1174" y="284" width="1" height="30" fill="#ef5350"/>
<rect x="1173" y="287" width="3" height="22" fill="#ef5350"/>
<rect x="1178" y="309" width="1" height="36" fill="#ef5350"/>
<rect x="1177" y="309" width="3" height="15" fill="#ef5350"/>
</g>
<line x1="10" x2="1234" y1="324.5" y2="324.5" stroke="#ef5350" stroke-width="1" stroke-dasharray="1 2" shape-rendering="crispEdges"/>
</g>
<g clip-path="url(#cr)">
<clipPath id="c70"><rect x="10" y="557" width="1282" height="51"/></clipPath>
<path clip-path="url(#c70)" d="M10.0,690.0 L14.5,710.0 L20.0,701.2 L24.0,697.0 L27.5,685.5 L32.0,680.5 L36.2,687.0 L40.0,683.0 L44.5,668.8 L48.8,672.0 L52.5,686.2 L57.0,689.5 L61.2,680.0 L65.5,672.5 L69.5,655.0 L73.8,642.5 L78.0,636.2 L81.2,642.0 L86.2,633.0 L90.0,632.5 L93.8,647.5 L98.8,637.5 L103.0,630.0 L107.0,633.8 L111.2,638.8 L115.0,650.0 L118.8,676.2 L122.5,688.0 L128.0,690.5 L132.0,677.0 L136.2,677.0 L140.0,672.0 L144.5,675.0 L148.0,671.2 L152.0,683.8 L157.0,679.5 L161.2,667.5 L165.0,660.0 L168.8,661.2 L172.5,632.0 L177.0,637.0 L181.2,637.0 L185.5,638.0 L189.5,631.2 L193.8,629.5 L198.0,613.0 L202.0,633.8 L206.2,647.5 L210.5,666.2 L214.5,664.5 L218.8,681.2 L223.0,673.0 L227.5,666.2 L231.2,655.0 L235.0,642.0 L239.5,638.8 L243.8,667.0 L248.0,668.8 L252.0,672.0 L256.2,678.8 L260.0,688.0 L265.0,682.0 L268.8,631.2 L273.0,613.8 L277.0,607.5 L281.2,596.2 L285.0,592.5 L289.2,582.5 L293.8,604.5 L297.5,613.0 L302.0,631.2 L310.0,625.5 L313.8,633.8 L318.8,622.5 L323.0,636.2 L327.0,641.2 L331.2,618.0 L335.0,621.2 L339.2,616.2 L342.0,619.5 L347.5,617.0 L352.0,630.5 L356.0,606.2 L360.0,616.2 L364.0,615.0 L368.0,608.0 L372.0,607.5 L376.5,616.2 L380.8,622.5 L385.0,605.5 L389.0,613.8 L393.2,600.0 L402.0,600.0 L405.8,640.5 L410.0,650.0 L414.0,633.8 L418.2,629.5 L422.0,627.5 L426.2,632.5 L430.8,625.5 L435.0,623.0 L439.0,636.2 L443.2,665.0 L447.5,683.8 L451.2,677.5 L455.8,688.0 L460.0,692.0 L464.5,677.0 L468.2,669.5 L472.0,668.8 L476.5,683.0 L480.2,683.0 L485.0,674.5 L489.5,678.8 L493.2,678.8 L497.5,681.2 L502.0,675.0 L505.8,662.5 L509.5,646.2 L514.5,640.5 L518.2,643.0 L522.0,638.0 L525.8,676.2 L530.0,682.5 L534.0,691.2 L539.0,684.5 L543.2,682.0 L547.0,683.8 L551.2,697.0 L555.2,683.0 L559.0,655.5 L563.2,671.2 L567.8,653.8 L572.0,669.5 L576.5,677.5 L580.0,671.2 L584.0,665.5 L588.2,673.8 L592.0,663.0 L596.5,665.5 L600.8,664.5 L604.5,673.8 L609.0,679.5 L613.2,690.0 L617.5,683.8 L622.0,668.0 L626.2,660.5 L630.0,680.0 L634.0,699.5 L637.8,698.0 L642.0,708.8 L645.8,701.2 L650.0,707.0 L654.5,712.0 L659.0,710.5 L662.8,711.2 L667.0,705.0 L671.2,710.0 L675.8,688.0 L679.5,693.0 L684.0,685.5 L691.5,692.5 L696.0,679.5 L700.2,687.5 L704.5,681.2 L709.0,677.0 L713.0,685.5 L717.0,670.0 L721.0,661.2 L724.8,695.5 L729.0,697.0 L733.5,709.5 L737.0,712.0 L741.5,717.0 L745.8,718.8 L750.0,674.5 L754.0,702.0 L758.5,699.5 L762.8,691.2 L766.5,693.0 L771.0,698.8 L775.0,690.5 L779.0,702.5 L783.0,713.0 L787.8,705.5 L791.5,706.2 L796.0,710.0 L800.2,702.5 L804.0,699.2 L808.2,703.8 L812.8,697.0 L816.5,696.2 L820.8,676.2 L825.2,684.5 L829.0,686.2 L833.2,683.8 L837.2,678.8 L841.5,667.5 L846.0,669.5 L850.2,677.0 L854.0,678.0 L858.2,692.0 L862.0,700.0 L866.0,703.0 L870.8,699.5 L874.8,682.0 L879.0,696.2 L883.2,691.8 L887.0,691.8 L891.0,693.8 L895.8,718.8 L899.8,721.2 L904.0,728.0 L907.8,688.8 L912.0,703.0 L915.8,694.5 L919.5,683.2 L924.5,688.0 L929.0,684.2 L933.2,688.0 L937.0,689.5 L941.5,688.8 L945.2,687.0 L949.8,682.0 L954.0,686.2 L958.2,688.0 L962.2,652.5 L966.5,646.2 L970.2,650.5 L974.5,647.0 L979.0,642.0 L983.2,648.8 L987.2,647.5 L991.0,647.5 L995.2,648.8 L999.0,639.5 L1000.0,638.2 L1003.8,638.0 L1008.0,640.5 L1012.0,647.5 L1016.2,645.0 L1020.0,647.0 L1024.2,648.8 L1028.2,586.2 L1032.5,577.5 L1037.0,566.2 L1040.8,581.2 L1045.0,585.0 L1048.8,575.8 L1053.2,589.5 L1057.5,600.8 L1061.8,603.0 L1065.8,614.5 L1070.0,612.5 L1074.2,610.0 L1078.2,611.2 L1082.0,608.0 L1086.8,598.2 L1090.8,626.2 L1095.0,625.5 L1098.8,623.8 L1103.0,622.0 L1107.0,612.0 L1111.2,609.5 L1115.5,619.5 L1120.0,641.2 L1124.2,641.8 L1128.2,640.5 L1132.0,630.0 L1136.2,633.0 L1140.0,631.2 L1145.0,669.5 L1149.2,659.5 L1153.2,651.2 L1157.5,653.8 L1161.2,626.2 L1165.0,615.0 L1170.0,623.8 L1174.2,646.2 L1178.2,658.8 L1178.2,700 L10.0,700 Z" fill="url(#ob)"/>
<path d="M10.0,690.0 L14.5,710.0 L20.0,701.2 L24.0,697.0 L27.5,685.5 L32.0,680.5 L36.2,687.0 L40.0,683.0 L44.5,668.8 L48.8,672.0 L52.5,686.2 L57.0,689.5 L61.2,680.0 L65.5,672.5 L69.5,655.0 L73.8,642.5 L78.0,636.2 L81.2,642.0 L86.2,633.0 L90.0,632.5 L93.8,647.5 L98.8,637.5 L103.0,630.0 L107.0,633.8 L111.2,638.8 L115.0,650.0 L118.8,676.2 L122.5,688.0 L128.0,690.5 L132.0,677.0 L136.2,677.0 L140.0,672.0 L144.5,675.0 L148.0,671.2 L152.0,683.8 L157.0,679.5 L161.2,667.5 L165.0,660.0 L168.8,661.2 L172.5,632.0 L177.0,637.0 L181.2,637.0 L185.5,638.0 L189.5,631.2 L193.8,629.5 L198.0,613.0 L202.0,633.8 L206.2,647.5 L210.5,666.2 L214.5,664.5 L218.8,681.2 L223.0,673.0 L227.5,666.2 L231.2,655.0 L235.0,642.0 L239.5,638.8 L243.8,667.0 L248.0,668.8 L252.0,672.0 L256.2,678.8 L260.0,688.0 L265.0,682.0 L268.8,631.2 L273.0,613.8 L277.0,607.5 L281.2,596.2 L285.0,592.5 L289.2,582.5 L293.8,604.5 L297.5,613.0 L302.0,631.2 L310.0,625.5 L313.8,633.8 L318.8,622.5 L323.0,636.2 L327.0,641.2 L331.2,618.0 L335.0,621.2 L339.2,616.2 L342.0,619.5 L347.5,617.0 L352.0,630.5 L356.0,606.2 L360.0,616.2 L364.0,615.0 L368.0,608.0 L372.0,607.5 L376.5,616.2 L380.8,622.5 L385.0,605.5 L389.0,613.8 L393.2,600.0 L402.0,600.0 L405.8,640.5 L410.0,650.0 L414.0,633.8 L418.2,629.5 L422.0,627.5 L426.2,632.5 L430.8,625.5 L435.0,623.0 L439.0,636.2 L443.2,665.0 L447.5,683.8 L451.2,677.5 L455.8,688.0 L460.0,692.0 L464.5,677.0 L468.2,669.5 L472.0,668.8 L476.5,683.0 L480.2,683.0 L485.0,674.5 L489.5,678.8 L493.2,678.8 L497.5,681.2 L502.0,675.0 L505.8,662.5 L509.5,646.2 L514.5,640.5 L518.2,643.0 L522.0,638.0 L525.8,676.2 L530.0,682.5 L534.0,691.2 L539.0,684.5 L543.2,682.0 L547.0,683.8 L551.2,697.0 L555.2,683.0 L559.0,655.5 L563.2,671.2 L567.8,653.8 L572.0,669.5 L576.5,677.5 L580.0,671.2 L584.0,665.5 L588.2,673.8 L592.0,663.0 L596.5,665.5 L600.8,664.5 L604.5,673.8 L609.0,679.5 L613.2,690.0 L617.5,683.8 L622.0,668.0 L626.2,660.5 L630.0,680.0 L634.0,699.5 L637.8,698.0 L642.0,708.8 L645.8,701.2 L650.0,707.0 L654.5,712.0 L659.0,710.5 L662.8,711.2 L667.0,705.0 L671.2,710.0 L675.8,688.0 L679.5,693.0 L684.0,685.5 L691.5,692.5 L696.0,679.5 L700.2,687.5 L704.5,681.2 L709.0,677.0 L713.0,685.5 L717.0,670.0 L721.0,661.2 L724.8,695.5 L729.0,697.0 L733.5,709.5 L737.0,712.0 L741.5,717.0 L745.8,718.8 L750.0,674.5 L754.0,702.0 L758.5,699.5 L762.8,691.2 L766.5,693.0 L771.0,698.8 L775.0,690.5 L779.0,702.5 L783.0,713.0 L787.8,705.5 L791.5,706.2 L796.0,710.0 L800.2,702.5 L804.0,699.2 L808.2,703.8 L812.8,697.0 L816.5,696.2 L820.8,676.2 L825.2,684.5 L829.0,686.2 L833.2,683.8 L837.2,678.8 L841.5,667.5 L846.0,669.5 L850.2,677.0 L854.0,678.0 L858.2,692.0 L862.0,700.0 L866.0,703.0 L870.8,699.5 L874.8,682.0 L879.0,696.2 L883.2,691.8 L887.0,691.8 L891.0,693.8 L895.8,718.8 L899.8,721.2 L904.0,728.0 L907.8,688.8 L912.0,703.0 L915.8,694.5 L919.5,683.2 L924.5,688.0 L929.0,684.2 L933.2,688.0 L937.0,689.5 L941.5,688.8 L945.2,687.0 L949.8,682.0 L954.0,686.2 L958.2,688.0 L962.2,652.5 L966.5,646.2 L970.2,650.5 L974.5,647.0 L979.0,642.0 L983.2,648.8 L987.2,647.5 L991.0,647.5 L995.2,648.8 L999.0,639.5 L1000.0,638.2 L1003.8,638.0 L1008.0,640.5 L1012.0,647.5 L1016.2,645.0 L1020.0,647.0 L1024.2,648.8 L1028.2,586.2 L1032.5,577.5 L1037.0,566.2 L1040.8,581.2 L1045.0,585.0 L1048.8,575.8 L1053.2,589.5 L1057.5,600.8 L1061.8,603.0 L1065.8,614.5 L1070.0,612.5 L1074.2,610.0 L1078.2,611.2 L1082.0,608.0 L1086.8,598.2 L1090.8,626.2 L1095.0,625.5 L1098.8,623.8 L1103.0,622.0 L1107.0,612.0 L1111.2,609.5 L1115.5,619.5 L1120.0,641.2 L1124.2,641.8 L1128.2,640.5 L1132.0,630.0 L1136.2,633.0 L1140.0,631.2 L1145.0,669.5 L1149.2,659.5 L1153.2,651.2 L1157.5,653.8 L1161.2,626.2 L1165.0,615.0 L1170.0,623.8 L1174.2,646.2 L1178.2,658.8" fill="none" stroke="#7e57c2" stroke-width="2.7" stroke-linejoin="round"/>
<path d="M10.0,682.5 C11.2,683.5 14.6,687.2 17.5,688.8 C20.4,690.3 23.8,691.7 27.5,692.0 C31.2,692.3 35.8,691.4 40.0,690.8 C44.2,690.1 48.3,688.8 52.5,688.0 C56.7,687.2 61.2,688.2 65.0,686.2 C68.8,684.3 71.2,679.8 75.0,676.2 C78.8,672.7 83.3,668.5 87.5,665.0 C91.7,661.5 96.2,658.2 100.0,655.5 C103.8,652.8 107.1,650.4 110.0,648.8 C112.9,647.1 114.6,645.5 117.5,645.5 C120.4,645.5 123.8,647.0 127.5,648.8 C131.2,650.5 135.8,653.5 140.0,656.2 C144.2,659.0 148.8,662.5 152.5,665.0 C156.2,667.5 159.6,669.8 162.5,671.2 C165.4,672.7 167.1,674.4 170.0,673.8 C172.9,673.1 176.7,670.0 180.0,667.5 C183.3,665.0 186.7,661.7 190.0,658.8 C193.3,655.8 197.1,652.1 200.0,650.0 C202.9,647.9 205.0,647.2 207.5,646.2 C210.0,645.3 212.1,644.5 215.0,644.5 C217.9,644.5 220.8,645.5 225.0,646.2 C229.2,647.0 235.8,647.1 240.0,648.8 C244.2,650.4 246.7,653.5 250.0,656.2 C253.3,659.0 257.5,663.1 260.0,665.0 C262.5,666.9 262.9,668.1 265.0,667.5 C267.1,666.9 270.0,664.0 272.5,661.2 C275.0,658.5 277.2,654.8 280.0,651.2 C282.8,647.7 285.9,642.9 289.2,640.0 C292.6,637.1 296.5,636.0 300.0,633.8 C303.5,631.5 306.2,629.2 310.0,626.2 C313.8,623.3 318.8,617.8 322.5,616.2 C326.2,614.7 329.2,616.4 332.5,617.0 C335.8,617.6 338.8,618.6 342.0,620.0 C345.2,621.4 348.7,625.0 352.0,625.5 C355.3,626.0 358.7,623.9 362.0,623.0 C365.3,622.1 368.7,620.8 372.0,620.0 C375.3,619.2 378.7,618.9 382.0,618.0 C385.3,617.1 388.7,615.5 392.0,614.5 C395.3,613.5 398.2,611.6 402.0,612.0 C405.8,612.4 410.3,615.6 414.5,617.0 C418.7,618.4 423.0,619.6 427.0,620.5 C431.0,621.4 434.9,620.4 438.2,622.5 C441.6,624.6 443.5,628.4 447.0,633.0 C450.5,637.6 455.8,646.3 459.5,650.0 C463.2,653.7 465.8,652.5 469.5,655.0 C473.2,657.5 477.8,661.5 482.0,665.0 C486.2,668.5 491.2,673.8 494.5,676.2 C497.8,678.7 499.1,679.8 502.0,679.5 C504.9,679.2 508.7,676.6 512.0,674.5 C515.3,672.4 518.7,668.1 522.0,667.0 C525.3,665.9 528.7,667.7 532.0,668.0 C535.3,668.3 538.2,668.3 542.0,668.8 C545.8,669.2 550.3,670.3 554.5,670.5 C558.7,670.7 562.8,668.9 567.0,670.0 C571.2,671.1 575.3,676.4 579.5,677.0 C583.7,677.6 587.0,675.0 592.0,673.8 C597.0,672.5 604.9,669.9 609.5,669.5 C614.1,669.1 616.2,670.7 619.5,671.2 C622.8,671.8 625.8,671.8 629.5,673.0 C633.2,674.2 637.8,676.3 642.0,678.8 C646.2,681.2 650.3,684.8 654.5,687.5 C658.7,690.2 663.2,693.1 667.0,695.0 C670.8,696.9 674.2,697.7 677.0,698.8 C679.8,699.8 681.6,700.8 684.0,701.2 C686.4,701.7 688.6,701.8 691.5,701.2 C694.4,700.7 697.8,699.5 701.5,698.0 C705.2,696.5 710.7,694.0 714.0,692.0 C717.3,690.0 719.0,687.4 721.5,686.2 C724.0,685.1 726.5,684.9 729.0,685.0 C731.5,685.1 733.6,686.0 736.5,687.0 C739.4,688.0 742.8,690.1 746.5,691.2 C750.2,692.4 754.8,692.9 759.0,693.8 C763.2,694.6 767.3,695.0 771.5,696.2 C775.7,697.5 780.2,700.3 784.0,701.2 C787.8,702.2 790.7,702.0 794.0,702.0 C797.3,702.0 800.2,701.6 804.0,701.2 C807.8,700.9 811.5,700.7 816.5,700.0 C821.5,699.3 829.0,698.7 834.0,697.0 C839.0,695.3 842.8,691.9 846.5,690.0 C850.2,688.1 852.8,686.3 856.5,685.5 C860.2,684.7 865.2,685.0 869.0,685.0 C872.8,685.0 875.7,685.2 879.0,685.5 C882.3,685.8 886.1,686.2 889.0,687.0 C891.9,687.8 893.6,688.0 896.5,690.0 C899.4,692.0 903.6,696.9 906.5,698.8 C909.4,700.6 911.1,701.2 914.0,701.2 C916.9,701.2 920.7,699.4 924.0,698.8 C927.3,698.1 930.7,697.8 934.0,697.5 C937.3,697.2 941.1,697.4 944.0,697.0 C946.9,696.6 949.0,696.2 951.5,695.0 C954.0,693.8 955.2,693.1 959.0,690.0 C962.8,686.9 969.0,680.4 974.0,676.2 C979.0,672.1 984.8,668.1 989.0,665.0 C993.2,661.9 997.2,659.0 999.0,657.5 C1000.8,656.0 998.2,657.7 1000.0,656.2 C1001.8,654.8 1007.1,650.6 1010.0,648.8 C1012.9,646.9 1015.0,645.7 1017.5,645.0 C1020.0,644.3 1022.1,646.2 1025.0,644.5 C1027.9,642.8 1031.7,638.7 1035.0,635.0 C1038.3,631.3 1041.9,626.2 1045.0,622.5 C1048.1,618.8 1050.8,615.1 1053.8,612.5 C1056.7,609.9 1059.4,609.1 1062.5,607.0 C1065.6,604.9 1069.2,602.1 1072.5,600.0 C1075.8,597.9 1080.2,595.3 1082.5,594.5 C1084.8,593.7 1083.3,592.9 1086.2,595.0 C1089.2,597.1 1096.0,604.0 1100.0,607.0 C1104.0,610.0 1105.8,610.8 1110.0,613.0 C1114.2,615.2 1120.0,618.3 1125.0,620.5 C1130.0,622.7 1135.8,624.2 1140.0,626.2 C1144.2,628.3 1147.1,631.3 1150.0,633.0 C1152.9,634.7 1154.6,635.4 1157.5,636.2 C1160.4,637.1 1164.2,637.2 1167.5,638.0 C1170.8,638.8 1175.8,640.7 1177.5,641.2" fill="none" stroke="#fbe335" stroke-width="1.2"/>
</g>
<g><circle cx="1178.5" cy="543.5" r="9.5" fill="#fff" stroke="#9c27b0" stroke-width="1.3"/><path d="M1181.5,538.2 L1174.6,544.6 L1178.4,544.6 L1175.8,549.2 L1182.6,542.6 L1178.8,542.6 Z" fill="#9c27b0"/><circle cx="1185.5" cy="536.5" r="3.2" fill="#f23645" stroke="#fff" stroke-width="1"/></g>
<g shape-rendering="crispEdges">
<rect x="1292" y="28" width="1" height="737" fill="#e0e3eb"/>
<rect x="11" y="556" width="1346" height="1" fill="#e0e3eb"/>
<rect x="11" y="738" width="1346" height="1" fill="#e0e3eb"/>
</g>
<text x="1300.6" y="75.9" font-size="12" fill="#131722" stroke="#131722" stroke-width="0.22" text-anchor="start" font-weight="normal" >4,000.00</text>
<text x="1300.6" y="110.8" font-size="12" fill="#131722" stroke="#131722" stroke-width="0.22" text-anchor="start" font-weight="normal" >3,800.00</text>
<text x="1300.6" y="145.8" font-size="12" fill="#131722" stroke="#131722" stroke-width="0.22" text-anchor="start" font-weight="normal" >3,600.00</text>
<text x="1300.6" y="180.7" font-size="12" fill="#131722" stroke="#131722" stroke-width="0.22" text-anchor="start" font-weight="normal" >3,400.00</text>
<text x="1300.6" y="215.6" font-size="12" fill="#131722" stroke="#131722" stroke-width="0.22" text-anchor="start" font-weight="normal" >3,200.00</text>
<text x="1300.6" y="250.6" font-size="12" fill="#131722" stroke="#131722" stroke-width="0.22" text-anchor="start" font-weight="normal" >3,000.00</text>
<text x="1300.6" y="285.5" font-size="12" fill="#131722" stroke="#131722" stroke-width="0.22" text-anchor="start" font-weight="normal" >2,800.00</text>
<text x="1300.6" y="320.4" font-size="12" fill="#131722" stroke="#131722" stroke-width="0.22" text-anchor="start" font-weight="normal" >2,600.00</text>
<text x="1300.6" y="355.3" font-size="12" fill="#131722" stroke="#131722" stroke-width="0.22" text-anchor="start" font-weight="normal" >2,400.00</text>
<text x="1300.6" y="390.3" font-size="12" fill="#131722" stroke="#131722" stroke-width="0.22" text-anchor="start" font-weight="normal" >2,200.00</text>
<text x="1300.6" y="425.2" font-size="12" fill="#131722" stroke="#131722" stroke-width="0.22" text-anchor="start" font-weight="normal" >2,000.00</text>
<text x="1300.6" y="460.1" font-size="12" fill="#131722" stroke="#131722" stroke-width="0.22" text-anchor="start" font-weight="normal" >1,800.00</text>
<text x="1300.6" y="495.1" font-size="12" fill="#131722" stroke="#131722" stroke-width="0.22" text-anchor="start" font-weight="normal" >1,600.00</text>
<text x="1300.6" y="530.0" font-size="12" fill="#131722" stroke="#131722" stroke-width="0.22" text-anchor="start" font-weight="normal" >1,400.00</text>
<text x="1300.6" y="585.0" font-size="12" fill="#131722" stroke="#131722" stroke-width="0.22" text-anchor="start" font-weight="normal" >80.00</text>
<text x="1300.6" y="638.0" font-size="12" fill="#131722" stroke="#131722" stroke-width="0.22" text-anchor="start" font-weight="normal" >60.00</text>
<text x="1300.6" y="691.0" font-size="12" fill="#131722" stroke="#131722" stroke-width="0.22" text-anchor="start" font-weight="normal" >40.00</text>
<path d="M1293,48 H1351 Q1353,48 1353,50 V63 Q1353,65 1351,65 H1293 Q1293,65 1293,65 V48 Q1293,48 1293,48 Z" fill="#0000ff"/>
<text x="1300.6" y="60.0" font-size="12" fill="#fff" stroke="#fff" stroke-width="0.22" text-anchor="start" font-weight="normal" >4,094.00</text>
<rect x="1293" y="28" width="64" height="33" fill="#fff"/>
<path d="M1293,282 H1351 Q1353,282 1353,284 V297 Q1353,299 1351,299 H1293 Q1293,299 1293,299 V282 Q1293,282 1293,282 Z" fill="#0000ff"/>
<text x="1300.6" y="294.0" font-size="12" fill="#fff" stroke="#fff" stroke-width="0.22" text-anchor="start" font-weight="normal" >2,738.50</text>
<path d="M1293,299 H1351 Q1353,299 1353,301 V314 Q1353,316 1351,316 H1293 Q1293,316 1293,316 V299 Q1293,299 1293,299 Z" fill="#2962ff"/>
<text x="1300.6" y="311.0" font-size="12" fill="#fff" stroke="#fff" stroke-width="0.22" text-anchor="start" font-weight="normal" >2,580.12</text>
<path d="M1293,316 H1351 Q1353,316 1353,318 V359 Q1353,361 1351,361 H1293 Q1293,361 1293,361 V316 Q1293,316 1293,316 Z" fill="#ef5350"/>
<text x="1300.6" y="328.1" font-size="12" fill="#fff" stroke="#fff" stroke-width="0.22" text-anchor="start" font-weight="normal" >2,555.65</text>
<text x="1300.6" y="342.2" font-size="12" fill="#fff" stroke="#fff" stroke-width="0.22" text-anchor="start" font-weight="normal"  textLength="36.5" lengthAdjust="spacingAndGlyphs">+4.28%</text>
<text x="1300.6" y="356.3" font-size="12" fill="#f9cfce" stroke="#f9cfce" stroke-width="0.22" text-anchor="start" font-weight="normal" >08:07:20</text>
<path d="M1293,361 H1351 Q1353,361 1353,363 V376 Q1353,378 1351,378 H1293 Q1293,378 1293,378 V361 Q1293,361 1293,361 Z" fill="#f23645"/>
<text x="1300.6" y="373.0" font-size="12" fill="#fff" stroke="#fff" stroke-width="0.22" text-anchor="start" font-weight="normal" >2,365.29</text>
<path d="M1293,378 H1351 Q1353,378 1353,380 V393 Q1353,395 1351,395 H1293 Q1293,395 1293,395 V378 Q1293,378 1293,378 Z" fill="#0000ff"/>
<text x="1300.6" y="390.0" font-size="12" fill="#fff" stroke="#fff" stroke-width="0.22" text-anchor="start" font-weight="normal" >2,323.00</text>
<path d="M1293,395 H1351 Q1353,395 1353,397 V410 Q1353,412 1351,412 H1293 Q1293,412 1293,412 V395 Q1293,395 1293,395 Z" fill="#0000ff"/>
<text x="1300.6" y="407.0" font-size="12" fill="#fff" stroke="#fff" stroke-width="0.22" text-anchor="start" font-weight="normal" >2,111.00</text>
<path d="M1293,524 H1351 Q1353,524 1353,526 V539 Q1353,541 1351,541 H1293 Q1293,541 1293,541 V524 Q1293,524 1293,524 Z" fill="#0000ff"/>
<text x="1300.6" y="536.0" font-size="12" fill="#fff" stroke="#fff" stroke-width="0.22" text-anchor="start" font-weight="normal" >1,368.00</text>
<path d="M1293,634 H1334 Q1336,634 1336,636 V649 Q1336,651 1334,651 H1293 Q1293,651 1293,651 V634 Q1293,634 1293,634 Z" fill="#ffeb3b"/>
<text x="1300.6" y="646.0" font-size="12" fill="#131722" stroke="#131722" stroke-width="0.22" text-anchor="start" font-weight="normal" >57.14</text>
<path d="M1293,651 H1334 Q1336,651 1336,653 V666 Q1336,668 1334,668 H1293 Q1293,668 1293,668 V651 Q1293,651 1293,651 Z" fill="#7e57c2"/>
<text x="1300.6" y="663.0" font-size="12" fill="#fff" stroke="#fff" stroke-width="0.22" text-anchor="start" font-weight="normal" >50.86</text>
<path d="M1263,299 H1292 Q1292,299 1292,299 V316 Q1292,316 1292,316 H1263 Q1261,316 1261,314 V301 Q1261,299 1263,299 Z" fill="#2962ff"/>
<text x="1266" y="311.0" font-size="12" fill="#fff" stroke="#fff" stroke-width="0.22" text-anchor="start" font-weight="normal"  textLength="22.3" lengthAdjust="spacingAndGlyphs">EMA</text>
<path d="M1236,316 H1292 Q1292,316 1292,316 V333 Q1292,333 1292,333 H1236 Q1234,333 1234,331 V318 Q1234,316 1236,316 Z" fill="#ef5350"/>
<text x="1239" y="328.0" font-size="12" fill="#fff" stroke="#fff" stroke-width="0.22" text-anchor="start" font-weight="normal"  textLength="48.4" lengthAdjust="spacingAndGlyphs">ETHUSDT</text>
<path d="M1244,361 H1292 Q1292,361 1292,361 V378 Q1292,378 1292,378 H1244 Q1242,378 1242,376 V363 Q1242,361 1244,361 Z" fill="#f23645"/>
<text x="1246.7" y="373.0" font-size="12" fill="#fff" stroke="#fff" stroke-width="0.22" text-anchor="start" font-weight="normal"  textLength="41.5" lengthAdjust="spacingAndGlyphs">SMA:MA</text>
<path d="M1215,634 H1292 Q1292,634 1292,634 V651 Q1292,651 1292,651 H1215 Q1213,651 1213,649 V636 Q1213,634 1215,634 Z" fill="#ffeb3b"/>
<text x="1217.8" y="646.0" font-size="12" fill="#131722" stroke="#131722" stroke-width="0.22" text-anchor="start" font-weight="normal"  textLength="70.2" lengthAdjust="spacingAndGlyphs">RSI-based MA</text>
<path d="M1269,651 H1292 Q1292,651 1292,651 V668 Q1292,668 1292,668 H1269 Q1267,668 1267,666 V653 Q1267,651 1269,651 Z" fill="#7e57c2"/>
<text x="1272.1" y="663.0" font-size="12" fill="#fff" stroke="#fff" stroke-width="0.22" text-anchor="start" font-weight="normal"  textLength="16" lengthAdjust="spacingAndGlyphs">RSI</text>
<rect x="1296" y="31" width="58" height="26" rx="5" fill="#fff" stroke="#eff0f2" stroke-width="1.6"/>
<text x="1305.3" y="49" font-size="12" fill="#131722" stroke="#131722" stroke-width="0.22" text-anchor="start" font-weight="normal"  textLength="27.4" lengthAdjust="spacingAndGlyphs">USDT</text>
<text x="119.3" y="755.6" font-size="12" fill="#131722" stroke="#131722" stroke-width="0.22" text-anchor="middle" font-weight="normal"  textLength="18.3" lengthAdjust="spacingAndGlyphs">Oct</text>
<text x="248" y="755.6" font-size="12" fill="#131722" stroke="#131722" stroke-width="0.22" text-anchor="middle" font-weight="normal"  textLength="19.3" lengthAdjust="spacingAndGlyphs">Nov</text>
<text x="372.4" y="755.6" font-size="12" fill="#131722" stroke="#131722" stroke-width="0.22" text-anchor="middle" font-weight="normal"  textLength="19.3" lengthAdjust="spacingAndGlyphs">Dec</text>
<text x="501.5" y="755.6" font-size="12" fill="#131722" stroke="#131722" stroke-width="0.22" text-anchor="middle" font-weight="bold"  textLength="26.8" lengthAdjust="spacingAndGlyphs">2025</text>
<text x="630.2" y="755.6" font-size="12" fill="#131722" stroke="#131722" stroke-width="0.22" text-anchor="middle" font-weight="normal"  textLength="19.3" lengthAdjust="spacingAndGlyphs">Feb</text>
<text x="746.3" y="755.6" font-size="12" fill="#131722" stroke="#131722" stroke-width="0.22" text-anchor="middle" font-weight="normal"  textLength="19.7" lengthAdjust="spacingAndGlyphs">Mar</text>
<text x="875.1" y="755.6" font-size="12" fill="#131722" stroke="#131722" stroke-width="0.22" text-anchor="middle" font-weight="normal"  textLength="18.4" lengthAdjust="spacingAndGlyphs">Apr</text>
<text x="999.4" y="755.6" font-size="12" fill="#131722" stroke="#131722" stroke-width="0.22" text-anchor="middle" font-weight="normal"  textLength="21.4" lengthAdjust="spacingAndGlyphs">May</text>
<text x="1128" y="755.6" font-size="12" fill="#131722" stroke="#131722" stroke-width="0.22" text-anchor="middle" font-weight="normal"  textLength="19.7" lengthAdjust="spacingAndGlyphs">Jun</text>
<text x="1253" y="755.6" font-size="12" fill="#131722" stroke="#131722" stroke-width="0.22" text-anchor="middle" font-weight="normal"  textLength="15.3" lengthAdjust="spacingAndGlyphs">Jul</text>
<text x="10.3" y="18.8" font-size="13" fill="#131722" stroke="#131722" stroke-width="0.22" text-anchor="start" font-weight="normal"  textLength="360.5" lengthAdjust="spacingAndGlyphs">ranadagger published on TradingView.com, Jun 13, 2025 15:52 UTC</text>
<text x="18" y="46" font-size="12" fill="#131722" stroke="#131722" stroke-width="0.22" text-anchor="start" font-weight="normal"  textLength="196.2" lengthAdjust="spacingAndGlyphs">Ethereum / TetherUS · 1D · BINANCE</text>
<text x="222" y="46" font-size="12" fill="#131722" stroke="#131722" stroke-width="0.22" text-anchor="start" font-weight="normal"  textLength="8" lengthAdjust="spacingAndGlyphs">O</text>
<text x="230.2" y="46" font-size="12" fill="#ef5350" stroke="#ef5350" stroke-width="0.22" text-anchor="start" font-weight="normal" >2,642.66</text>
<text x="284.2" y="46" font-size="12" fill="#131722" stroke="#131722" stroke-width="0.22" text-anchor="start" font-weight="normal"  textLength="6.8" lengthAdjust="spacingAndGlyphs">H</text>
<text x="291.7" y="46" font-size="12" fill="#ef5350" stroke="#ef5350" stroke-width="0.22" text-anchor="start" font-weight="normal" >2,645.45</text>
<text x="346.2" y="46" font-size="12" fill="#131722" stroke="#131722" stroke-width="0.22" text-anchor="start" font-weight="normal"  textLength="4.8" lengthAdjust="spacingAndGlyphs">L</text>
<text x="351.5" y="46" font-size="12" fill="#ef5350" stroke="#ef5350" stroke-width="0.22" text-anchor="start" font-weight="normal" >2,436.98</text>
<text x="405.8" y="46" font-size="12" fill="#131722" stroke="#131722" stroke-width="0.22" text-anchor="start" font-weight="normal"  textLength="6.8" lengthAdjust="spacingAndGlyphs">C</text>
<text x="412.7" y="46" font-size="12" fill="#ef5350" stroke="#ef5350" stroke-width="0.22" text-anchor="start" font-weight="normal" >2,555.65</text>
<text x="466.3" y="46" font-size="12" fill="#ef5350" stroke="#ef5350" stroke-width="0.22" text-anchor="start" font-weight="normal"  textLength="84.5" lengthAdjust="spacingAndGlyphs">−87.00 (−3.29%)</text>
<text x="18" y="62.7" font-size="12" fill="#131722" stroke="#131722" stroke-width="0.22" text-anchor="start" font-weight="normal"  textLength="81.5" lengthAdjust="spacingAndGlyphs">EMA (20, close)</text>
<text x="107.2" y="62.7" font-size="12" fill="#2962ff" stroke="#2962ff" stroke-width="0.22" text-anchor="start" font-weight="normal" >2,580.12</text>
<text x="18" y="79.7" font-size="12" fill="#131722" stroke="#131722" stroke-width="0.22" text-anchor="start" font-weight="normal"  textLength="81.5" lengthAdjust="spacingAndGlyphs">SMA (50, close)</text>
<text x="107.2" y="79.7" font-size="12" fill="#f23645" stroke="#f23645" stroke-width="0.22" text-anchor="start" font-weight="normal" >2,365.29</text>
<text x="18.4" y="576" font-size="12" fill="#131722" stroke="#131722" stroke-width="0.22" text-anchor="start" font-weight="normal"  textLength="75.5" lengthAdjust="spacingAndGlyphs">RSI (14, close)</text>
<text x="102.2" y="576" font-size="12" fill="#7e57c2" stroke="#7e57c2" stroke-width="0.22" text-anchor="start" font-weight="normal" >50.86</text>
<text x="138.8" y="576" font-size="12" fill="#ffeb3b" stroke="#ffeb3b" stroke-width="0.22" text-anchor="start" font-weight="normal" >57.14</text>
<g stroke="#131722" stroke-width="1.1" fill="none"><ellipse cx="179.3" cy="571.9" rx="2.9" ry="3.7"/><line x1="176.70000000000002" y1="576.6" x2="181.9" y2="567.2"/></g>
<g stroke="#131722" stroke-width="1.1" fill="none"><ellipse cx="195.1" cy="571.9" rx="2.9" ry="3.7"/><line x1="192.5" y1="576.6" x2="197.7" y2="567.2"/></g>
<g stroke="#131722" stroke-width="1.1" fill="none"><ellipse cx="210" cy="571.9" rx="2.9" ry="3.7"/><line x1="207.4" y1="576.6" x2="212.6" y2="567.2"/></g>
<g stroke="#131722" stroke-width="1.1" fill="none"><ellipse cx="224.9" cy="571.9" rx="2.9" ry="3.7"/><line x1="222.3" y1="576.6" x2="227.5" y2="567.2"/></g>
<g fill="#0c0e15"><path d="M10,778 H17.7 V787.7 H13.9 V781.7 H10 Z"/><circle cx="21" cy="780.2" r="1.95"/><path d="M25.5,778 H29.8 L25.8,787.7 H21.3 Z"/></g>
<text x="33" y="787.7" font-size="12.4" fill="#1e222d" stroke="#1e222d" stroke-width="0" text-anchor="start" font-weight="normal"  textLength="70" lengthAdjust="spacingAndGlyphs">TradingView</text>
</svg></body></html>
